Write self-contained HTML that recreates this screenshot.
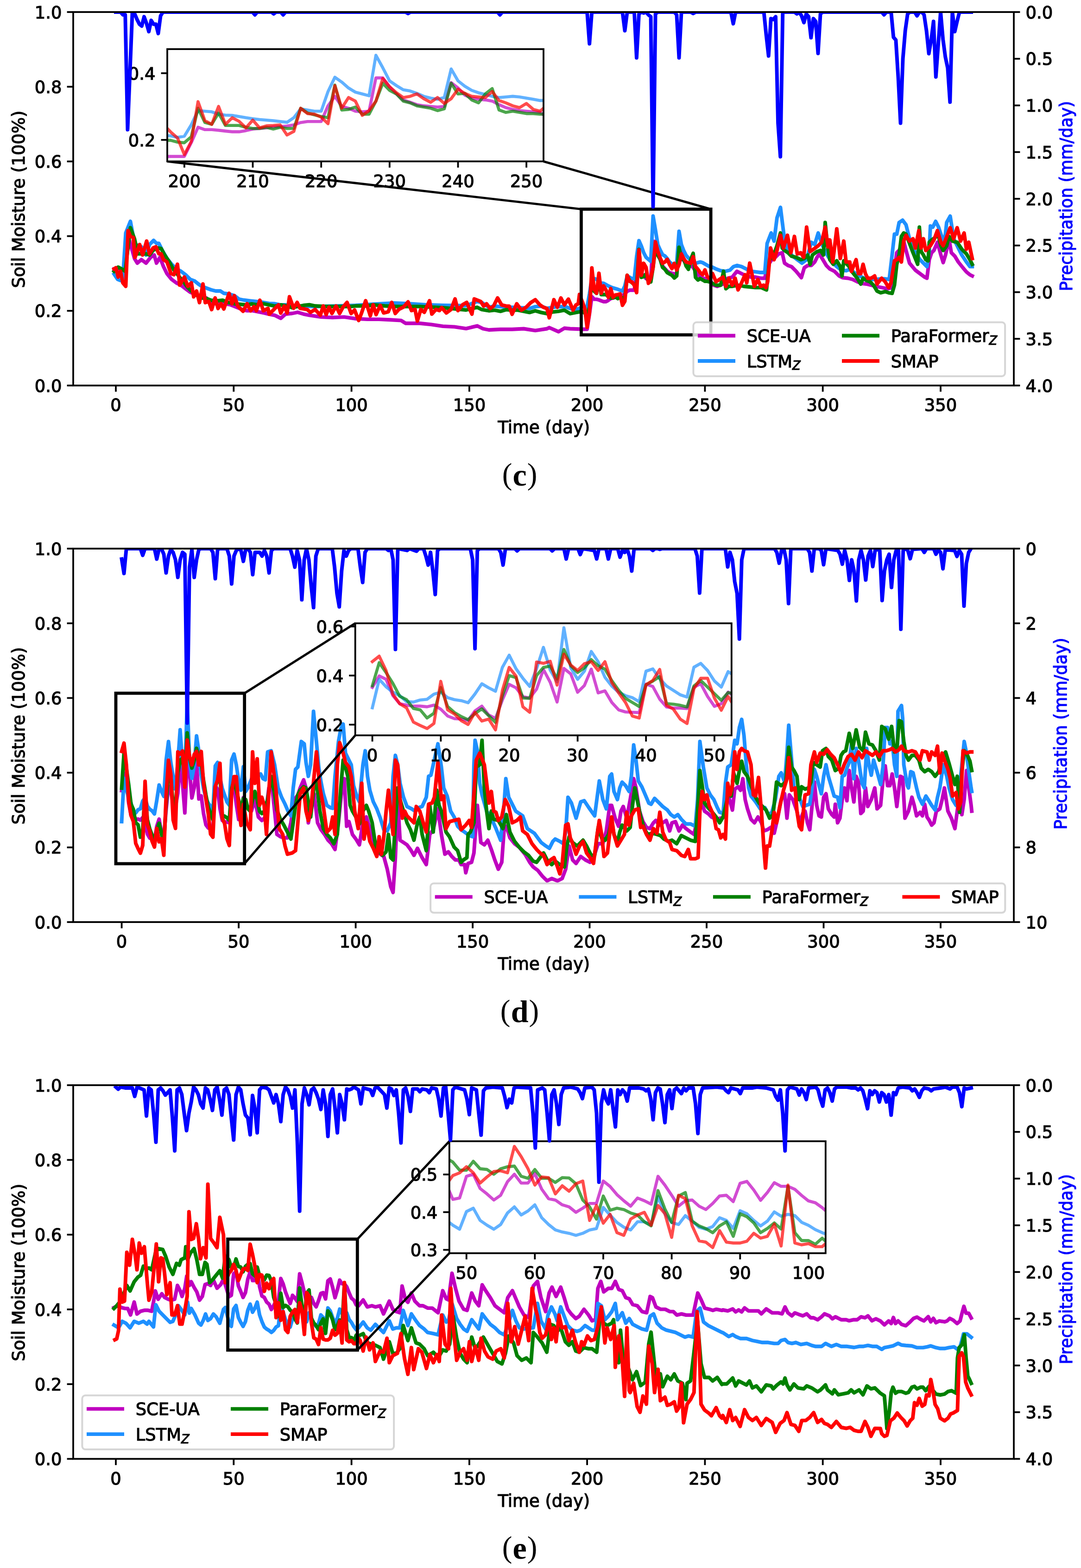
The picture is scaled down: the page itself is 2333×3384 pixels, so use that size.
<!DOCTYPE html>
<html><head><meta charset="utf-8"><title>Soil moisture figure</title>
<style>html,body{margin:0;padding:0;background:#fff;} svg{display:block;} text{stroke-width:1.2px;} text.lab{stroke-width:0;}</style></head>
<body>
<svg xmlns="http://www.w3.org/2000/svg" width="2333" height="3384" viewBox="0 0 2333 3384" font-family="'DejaVu Sans', 'Liberation Sans', sans-serif">
<defs><clipPath id="clip0"><rect x="158" y="26" width="2030" height="806"/></clipPath><clipPath id="iclip0"><rect x="361" y="106" width="812" height="242.3"/></clipPath><clipPath id="clip1"><rect x="158" y="1184" width="2030" height="806"/></clipPath><clipPath id="iclip1"><rect x="766.7" y="1345.2" width="812.0999999999999" height="241.79999999999995"/></clipPath><clipPath id="clip2"><rect x="158" y="2342" width="2030" height="806.5"/></clipPath><clipPath id="iclip2"><rect x="969.8" y="2463" width="812.0" height="241.5999999999999"/></clipPath></defs>
<rect width="2333" height="3384" fill="#fff"/>
<polyline points="246.3,580.4 255.1,580.4 262.6,584.1 267.6,590.4 278.9,517.7 290.2,557.8 296.4,567.8 305.2,560.3 315.2,567.8 325.2,555.3 332.8,550.3 337.8,567.8 345.3,555.3 352.8,575.3 360.3,590.4 370.4,602.9 380.4,610.4 390.4,615.4 400.4,623.0 410.5,630.5 423.0,635.5 435.5,640.5 445.5,643.0 455.6,653.0 465.6,655.5 475.6,654.3 485.6,655.5 498.2,658.0 510.7,663.1 523.2,668.1 533.3,670.6 545.8,670.6 558.3,673.1 570.9,675.6 580.9,678.1 593.4,680.6 605.9,686.9 616.0,678.1 626.0,676.8 630.0,676.5 642.5,674.0 655.1,677.8 667.6,680.3 692.7,684.1 717.7,685.3 742.8,684.1 767.8,687.8 792.9,689.1 818.0,689.1 843.0,690.3 865.6,691.6 875.6,697.8 905.7,697.8 930.8,700.4 955.8,704.1 980.9,705.4 1005.9,709.1 1030.0,703.3 1042.5,709.5 1055.1,712.0 1080.1,710.8 1105.2,710.8 1130.3,709.5 1155.3,713.3 1180.4,709.5 1185.4,707.0 1205.4,715.8 1218.0,708.3 1230.5,709.5 1257.0,710.5 1262.1,710.5 1267.1,710.5 1272.2,677.5 1277.3,640.1 1282.4,645.9 1287.5,645.9 1292.6,647.3 1297.7,649.3 1302.7,651.0 1307.8,651.0 1312.9,648.2 1318.0,644.4 1323.1,643.0 1328.2,641.6 1333.3,639.5 1338.3,638.7 1343.4,637.2 1348.5,634.4 1353.6,628.6 1358.7,626.3 1363.8,626.3 1368.9,626.3 1373.9,588.4 1379.0,565.4 1384.1,589.8 1389.2,594.1 1394.3,601.3 1399.4,602.8 1404.5,601.3 1409.5,520.9 1414.6,520.9 1419.7,542.4 1424.8,559.7 1429.9,574.0 1435.0,579.8 1440.1,585.5 1445.1,588.4 1450.2,589.8 1455.3,591.3 1460.4,589.8 1465.5,532.4 1470.6,545.3 1475.7,562.5 1480.7,569.7 1485.8,572.6 1490.9,574.0 1496.0,576.9 1501.1,585.5 1506.2,592.7 1511.3,597.0 1516.3,599.9 1521.4,601.3 1526.5,602.8 1531.6,604.2 1540.3,615.5 1547.8,618.0 1560.3,613.0 1570.4,600.5 1580.4,598.0 1590.4,585.5 1600.4,590.5 1610.5,595.5 1620.5,598.0 1630.5,598.0 1643.0,600.5 1650.6,600.5 1655.6,575.4 1665.6,560.4 1673.1,555.4 1680.6,547.9 1688.1,545.4 1693.2,567.9 1700.7,572.9 1708.2,575.4 1718.2,585.5 1729.5,599.2 1735.8,577.9 1743.3,572.9 1750.8,572.9 1758.3,565.4 1763.3,555.4 1768.3,547.9 1775.9,560.4 1783.4,572.9 1790.9,580.5 1800.9,585.5 1811.0,595.5 1818.5,599.2 1830.1,600.5 1840.1,603.0 1850.2,608.0 1860.2,611.8 1870.2,613.0 1890.3,618.0 1915.3,623.1 1925.3,620.6 1935.4,545.4 1940.4,540.4 1950.4,520.3 1955.4,540.4 1962.9,567.9 1975.5,583.0 1985.5,590.5 1995.5,598.0 2000.5,600.5 2005.5,560.4 2010.6,545.4 2015.6,540.4 2023.1,522.8 2030.6,550.4 2035.6,566.7 2040.6,550.4 2048.1,515.3 2053.2,545.4 2060.7,552.9 2068.2,565.4 2078.2,577.9 2085.7,586.7 2093.3,593.0 2098.3,595.5" fill="none" stroke="#bf00bf" stroke-width="7.9" stroke-linejoin="round" stroke-linecap="square" clip-path="url(#clip0)"/>
<polyline points="246.3,591.6 253.8,602.9 260.1,605.4 265.1,600.4 271.4,502.7 281.4,477.6 287.6,510.2 292.7,527.7 305.2,532.7 315.2,550.3 322.7,527.7 331.5,518.9 337.8,525.2 342.8,525.2 350.3,540.3 360.3,557.8 370.4,570.3 380.4,580.4 390.4,585.4 400.4,592.9 410.5,602.9 420.5,606.7 428.0,612.9 435.5,617.9 445.5,621.7 455.6,625.5 465.6,628.0 475.6,628.0 483.1,633.0 493.2,634.2 505.7,638.0 515.7,645.5 525.7,647.5 540.8,649.3 550.8,650.5 563.3,651.8 580.9,655.0 593.4,655.5 605.9,658.0 621.0,658.0 630.0,660.3 680.1,661.5 730.3,660.3 767.8,659.0 805.4,656.5 850.6,654.0 880.6,655.2 918.2,657.7 955.8,659.0 1005.9,659.7 1030.0,650.6 1040.0,653.1 1055.1,663.2 1067.6,660.7 1080.1,661.9 1105.2,663.2 1130.3,664.4 1142.8,665.7 1155.3,661.9 1167.8,660.7 1180.4,665.7 1192.9,663.2 1205.4,661.9 1220.5,661.9 1230.5,665.7 1240.5,668.2 1250.6,665.7 1257.0,660.8 1262.1,664.5 1267.1,661.7 1272.2,634.4 1277.3,599.9 1282.4,601.3 1287.5,602.8 1292.6,608.5 1297.7,610.8 1302.7,611.4 1307.8,614.3 1312.9,617.1 1318.0,619.4 1323.1,621.4 1328.2,622.9 1333.3,624.3 1338.3,626.3 1343.4,628.0 1348.5,617.1 1353.6,595.6 1358.7,598.5 1363.8,601.3 1368.9,601.3 1373.9,553.9 1379.0,519.4 1384.1,530.9 1389.2,545.3 1394.3,555.3 1399.4,559.7 1404.5,564.0 1409.5,466.3 1414.6,496.4 1419.7,528.0 1424.8,539.5 1429.9,549.6 1435.0,552.5 1440.1,558.2 1445.1,565.4 1450.2,569.7 1455.3,572.6 1460.4,568.3 1465.5,499.3 1470.6,528.0 1475.7,541.0 1480.7,551.0 1485.8,556.8 1490.9,561.1 1496.0,565.4 1501.1,568.3 1506.2,566.8 1511.3,565.4 1516.3,566.8 1521.4,569.7 1526.5,572.6 1531.6,575.5 1535.3,575.4 1545.3,580.5 1555.3,584.2 1565.3,585.5 1575.4,583.0 1582.9,575.4 1590.4,572.9 1600.4,575.4 1610.5,580.5 1620.5,585.5 1630.5,586.7 1640.5,588.0 1650.6,588.0 1655.6,525.3 1664.3,502.8 1670.6,520.3 1676.9,470.2 1684.4,447.6 1689.4,487.7 1693.2,517.8 1700.7,540.4 1710.7,552.9 1720.7,560.4 1730.8,567.9 1740.8,560.4 1750.8,522.8 1758.3,527.8 1765.8,502.8 1773.4,525.3 1780.9,542.9 1788.4,555.4 1795.9,565.4 1805.9,575.4 1816.0,583.0 1826.0,584.2 1832.6,581.7 1840.1,585.5 1850.2,593.0 1860.2,598.0 1870.2,603.0 1880.2,603.0 1890.3,603.0 1900.3,601.8 1910.3,601.8 1919.1,603.0 1925.3,550.4 1930.4,505.3 1935.4,505.3 1940.4,480.2 1947.9,475.2 1955.4,485.2 1960.4,505.3 1965.4,525.3 1975.5,545.4 1985.5,560.4 1995.5,570.4 2000.5,575.4 2005.5,540.4 2008.0,487.7 2013.1,490.2 2019.3,477.7 2025.6,490.2 2030.6,505.3 2038.1,525.3 2043.1,480.2 2050.7,466.4 2054.4,490.2 2058.2,515.3 2065.7,530.3 2075.7,550.4 2085.7,565.4 2093.3,575.4 2098.3,575.4" fill="none" stroke="#1e90ff" stroke-width="7.9" stroke-linejoin="round" stroke-linecap="square" clip-path="url(#clip0)"/>
<polyline points="246.3,585.4 255.1,576.6 262.6,580.4 270.1,585.4 281.4,491.4 290.2,515.2 297.7,547.8 305.2,547.8 315.2,547.8 322.7,550.3 330.3,540.3 340.3,535.2 347.8,536.5 355.3,550.3 365.3,565.3 375.4,582.9 385.4,595.4 395.4,607.9 405.4,620.5 415.5,630.5 425.5,638.0 435.5,643.0 445.5,644.3 455.6,648.0 468.1,649.3 480.6,648.0 493.2,653.0 505.7,655.5 518.2,656.8 530.8,658.0 543.3,656.0 555.8,658.0 568.3,655.5 580.9,658.0 593.4,660.6 605.9,658.0 621.0,660.6 630.0,664.0 655.1,659.0 667.6,657.7 680.1,660.3 705.2,661.5 730.3,661.5 755.3,661.5 767.8,660.3 792.9,660.3 805.4,657.7 830.5,660.3 855.6,661.5 880.6,661.5 905.7,661.5 930.8,662.8 955.8,664.0 980.9,666.5 1005.9,669.0 1030.0,663.2 1040.0,668.2 1055.1,670.7 1067.6,669.4 1080.1,671.9 1092.7,668.2 1105.2,669.4 1117.7,669.4 1130.3,671.9 1142.8,674.4 1155.3,670.7 1167.8,674.4 1180.4,676.9 1192.9,673.2 1205.4,671.9 1218.0,669.4 1230.5,676.9 1243.0,674.4 1250.6,673.2 1257.0,671.7 1262.1,676.0 1267.1,677.5 1272.2,663.1 1277.3,594.1 1282.4,628.6 1287.5,632.9 1292.6,605.6 1297.7,635.8 1302.7,635.8 1307.8,635.8 1312.9,640.1 1318.0,643.0 1323.1,643.0 1328.2,640.1 1333.3,644.4 1338.3,640.1 1343.4,643.0 1348.5,643.0 1353.6,594.1 1358.7,605.6 1363.8,609.9 1368.9,614.3 1373.9,617.1 1379.0,538.1 1384.1,598.5 1389.2,597.0 1394.3,591.3 1399.4,608.5 1404.5,608.5 1409.5,576.9 1414.6,533.8 1419.7,551.0 1424.8,559.7 1429.9,576.9 1435.0,581.2 1440.1,588.4 1445.1,591.3 1450.2,594.1 1455.3,599.9 1460.4,595.6 1465.5,533.8 1470.6,559.7 1475.7,558.2 1480.7,574.0 1485.8,581.2 1490.9,559.7 1496.0,546.7 1501.1,598.5 1506.2,604.2 1511.3,601.3 1516.3,604.2 1521.4,607.1 1526.5,607.1 1531.6,608.5 1545.3,615.5 1555.3,615.5 1561.6,585.5 1566.6,623.1 1572.9,618.0 1580.4,618.0 1592.9,615.5 1605.4,618.0 1618.0,619.3 1630.5,620.6 1643.0,620.6 1654.3,625.6 1660.6,560.4 1668.1,555.4 1676.9,530.3 1684.4,502.8 1688.1,535.3 1693.2,540.4 1700.7,545.4 1708.2,552.9 1718.2,555.4 1728.2,560.4 1735.8,557.9 1743.3,550.4 1748.3,570.4 1753.3,550.4 1763.3,542.9 1770.9,540.4 1777.1,550.4 1780.9,480.2 1785.9,530.3 1790.9,560.4 1798.4,570.4 1805.9,562.9 1813.5,575.4 1817.2,595.5 1821.0,562.9 1832.6,575.4 1840.1,588.0 1850.2,600.5 1857.7,613.0 1862.7,600.5 1870.2,605.5 1877.7,608.0 1885.2,615.5 1892.8,628.1 1900.3,631.8 1910.3,629.3 1917.8,631.8 1925.3,633.1 1930.4,615.5 1935.4,570.4 1940.4,550.4 1945.4,510.3 1950.4,502.8 1955.4,505.3 1962.9,525.3 1970.5,545.4 1980.5,570.4 1984.2,490.2 1988.0,542.9 1993.0,550.4 1998.0,560.4 2003.0,562.9 2005.5,522.8 2010.6,517.8 2018.1,512.8 2024.3,505.3 2030.6,530.3 2035.6,540.4 2043.1,530.3 2048.1,510.3 2055.7,520.3 2065.7,522.8 2075.7,537.8 2085.7,547.9 2093.3,560.4 2098.3,570.4" fill="none" stroke="#008000" stroke-width="7.9" stroke-linejoin="round" stroke-linecap="square" clip-path="url(#clip0)"/>
<polyline points="246.3,580.4 250.1,577.8 255.1,597.9 260.1,585.4 265.1,610.4 271.4,617.9 276.4,497.6 281.4,510.2 287.6,512.7 291.4,555.3 301.4,527.7 307.7,550.3 316.5,520.2 322.7,547.8 330.3,535.2 336.5,532.7 342.8,547.8 347.8,547.8 352.8,560.3 360.3,565.3 369.1,590.4 375.4,592.9 382.9,570.3 387.9,615.4 397.9,597.9 405.4,617.9 413.0,610.4 418.0,640.5 424.2,628.0 430.5,653.0 438.0,612.9 443.0,653.0 450.6,650.5 456.8,668.1 464.3,643.0 470.6,665.6 476.9,655.5 483.1,666.8 494.4,633.0 500.7,655.5 505.7,638.0 513.2,660.6 524.5,671.8 533.3,655.5 540.8,670.6 548.3,661.8 553.3,670.6 560.8,648.0 568.3,670.6 578.4,665.6 580.9,678.1 590.9,668.1 600.9,658.0 605.9,675.6 613.5,660.6 619.7,675.6 624.7,640.5 633.8,665.3 641.3,652.7 647.5,665.3 662.6,667.8 670.1,674.0 680.1,667.8 691.4,680.3 697.7,660.3 703.9,679.0 710.2,662.8 716.5,676.5 725.2,660.3 732.8,676.5 740.3,662.8 749.0,652.7 757.8,676.5 765.3,669.0 774.1,691.6 780.4,675.3 789.1,649.0 799.2,681.6 805.4,657.7 811.7,679.0 820.5,659.0 828.0,675.3 838.0,672.8 845.5,652.7 853.1,676.5 860.6,667.8 870.6,662.8 880.6,651.5 888.1,670.3 895.7,667.8 900.7,692.8 908.2,667.8 915.7,674.0 927.0,649.0 932.0,677.8 940.8,667.8 948.3,670.3 953.3,664.0 963.3,675.3 973.4,667.8 982.1,645.2 988.4,670.3 998.4,657.7 1007.2,652.7 1018.5,677.8 1023.5,645.2 1037.5,650.6 1043.8,660.7 1050.1,655.6 1057.6,665.7 1065.1,660.7 1073.9,643.1 1082.6,658.1 1092.7,660.7 1098.9,660.7 1105.2,678.2 1115.2,655.6 1125.2,669.4 1135.3,663.2 1145.3,653.1 1155.3,646.9 1165.3,658.1 1172.9,663.2 1180.4,665.7 1185.4,685.7 1195.4,646.9 1202.9,663.2 1210.5,643.1 1218.0,658.1 1226.7,645.6 1236.8,669.4 1243.0,658.1 1248.0,655.6 1250.6,635.6 1257.0,651.6 1262.1,666.0 1267.1,706.2 1272.2,674.6 1277.3,578.3 1282.4,624.3 1287.5,632.9 1292.6,589.8 1297.7,632.9 1302.7,617.1 1307.8,625.8 1312.9,641.6 1318.0,622.9 1323.1,641.6 1328.2,636.7 1333.3,635.8 1338.3,634.4 1343.4,658.8 1348.5,650.2 1353.6,594.1 1358.7,607.1 1363.8,608.5 1368.9,615.7 1373.9,631.5 1379.0,539.5 1384.1,594.1 1389.2,568.3 1394.3,576.9 1399.4,611.4 1404.5,599.9 1409.5,576.9 1414.6,522.3 1419.7,542.4 1424.8,556.8 1429.9,568.3 1435.0,565.4 1440.1,559.7 1445.1,571.2 1450.2,579.8 1455.3,568.3 1460.4,582.6 1465.5,571.2 1470.6,548.2 1475.7,558.2 1480.7,565.4 1485.8,566.8 1490.9,568.3 1496.0,553.9 1501.1,575.5 1506.2,581.2 1511.3,588.4 1516.3,592.7 1521.4,582.6 1526.5,597.0 1531.6,601.3 1537.8,590.5 1545.3,608.0 1552.8,603.0 1560.3,598.0 1566.6,618.0 1572.9,600.5 1580.4,615.5 1586.6,600.5 1592.9,625.6 1600.4,610.5 1607.9,593.0 1611.7,610.5 1618.0,567.9 1624.2,598.0 1628.0,618.0 1635.5,603.0 1641.8,618.0 1648.0,615.5 1653.1,620.6 1656.8,608.0 1663.1,535.3 1670.6,560.4 1676.9,540.4 1684.4,507.8 1690.7,535.3 1699.4,507.8 1706.9,545.4 1714.5,510.3 1720.7,547.9 1728.2,545.4 1734.5,555.4 1740.8,490.2 1748.3,542.9 1755.8,537.8 1765.8,530.3 1773.4,522.8 1780.9,490.2 1787.1,532.8 1790.9,517.8 1797.2,565.4 1805.9,494.0 1813.5,557.9 1821.0,520.3 1826.0,565.4 1833.9,565.4 1837.6,585.5 1842.6,572.9 1847.6,560.4 1852.7,590.5 1857.7,590.5 1862.7,570.4 1867.7,590.5 1872.7,600.5 1880.2,600.5 1887.7,595.5 1892.8,613.0 1902.8,600.5 1910.3,608.0 1917.8,620.6 1922.8,610.5 1930.4,562.9 1935.4,560.4 1940.4,555.4 1945.4,565.4 1950.4,520.3 1955.4,507.8 1962.9,520.3 1970.5,515.3 1975.5,535.3 1983.0,497.7 1988.0,535.3 1993.0,515.3 1998.0,540.4 2008.0,530.3 2015.6,517.8 2023.1,497.7 2030.6,522.8 2035.6,530.3 2040.6,517.8 2050.7,491.5 2058.2,515.3 2065.7,491.5 2073.2,520.3 2080.7,502.8 2085.7,537.8 2090.8,522.8 2098.3,557.9" fill="none" stroke="#ff0000" stroke-width="7.9" stroke-linejoin="round" stroke-linecap="square" clip-path="url(#clip0)"/>
<rect x="1254.4" y="451.4" width="279.7" height="271.3" fill="none" stroke="#000" stroke-width="6.8"/>
<line x1="361.0" y1="348.3" x2="1254.4" y2="451.4" stroke="#000" stroke-width="4.9"/>
<line x1="1173.0" y1="348.3" x2="1534.1" y2="451.4" stroke="#000" stroke-width="4.9"/>
<rect x="361" y="106" width="812.0" height="242.3" fill="#fff"/>
<polyline points="361.0,337.6 368.4,337.6 383.1,337.6 397.9,337.6 412.7,308.1 427.4,274.7 442.2,279.8 457.0,279.8 471.7,281.1 486.5,282.9 501.3,284.4 516.0,284.4 530.8,281.9 545.5,278.5 560.3,277.2 575.1,276.0 589.8,274.2 604.6,273.4 619.4,272.1 634.1,269.5 648.9,264.4 663.7,262.3 678.4,262.3 693.2,262.3 707.9,228.4 722.7,207.9 737.5,229.7 752.2,233.6 767.0,240.0 781.8,241.3 796.5,240.0 811.3,168.1 826.1,168.1 840.8,187.3 855.6,202.7 870.3,215.6 885.1,220.7 899.9,225.9 914.6,228.4 929.4,229.7 944.2,231.0 958.9,229.7 973.7,178.3 988.5,189.9 1003.2,205.3 1018.0,211.7 1032.7,214.3 1047.5,215.6 1062.3,218.2 1077.0,225.9 1091.8,232.3 1106.6,236.1 1121.3,238.7 1136.1,240.0 1150.9,241.3 1165.6,242.6 1173.0,247.7" fill="none" stroke="#bf00bf" stroke-width="6.6" stroke-linejoin="round" stroke-linecap="square" stroke-opacity="0.7" clip-path="url(#iclip0)"/>
<polyline points="361.0,292.7 368.4,293.2 383.1,296.5 397.9,293.9 412.7,269.5 427.4,238.7 442.2,240.0 457.0,241.3 471.7,246.4 486.5,248.5 501.3,249.0 516.0,251.6 530.8,254.1 545.5,256.2 560.3,258.0 575.1,259.3 589.8,260.5 604.6,262.3 619.4,263.9 634.1,254.1 648.9,234.9 663.7,237.4 678.4,240.0 693.2,240.0 707.9,197.6 722.7,166.8 737.5,177.1 752.2,189.9 767.0,198.9 781.8,202.7 796.5,206.6 811.3,119.3 826.1,146.2 840.8,174.5 855.6,184.8 870.3,193.8 885.1,196.3 899.9,201.5 914.6,207.9 929.4,211.7 944.2,214.3 958.9,210.5 973.7,148.8 988.5,174.5 1003.2,186.1 1018.0,195.0 1032.7,200.2 1047.5,204.0 1062.3,207.9 1077.0,210.5 1091.8,209.2 1106.6,207.9 1121.3,209.2 1136.1,211.7 1150.9,214.3 1165.6,216.9 1173.0,216.9" fill="none" stroke="#1e90ff" stroke-width="6.6" stroke-linejoin="round" stroke-linecap="square" stroke-opacity="0.7" clip-path="url(#iclip0)"/>
<polyline points="361.0,302.9 368.4,302.9 383.1,306.8 397.9,308.1 412.7,295.2 427.4,233.6 442.2,264.4 457.0,268.3 471.7,243.8 486.5,270.8 501.3,270.8 516.0,270.8 530.8,274.7 545.5,277.2 560.3,277.2 575.1,274.7 589.8,278.5 604.6,274.7 619.4,277.2 634.1,277.2 648.9,233.6 663.7,243.8 678.4,247.7 693.2,251.6 707.9,254.1 722.7,183.5 737.5,237.4 752.2,236.1 767.0,231.0 781.8,246.4 796.5,246.4 811.3,218.2 826.1,179.6 840.8,195.0 855.6,202.7 870.3,218.2 885.1,222.0 899.9,228.4 914.6,231.0 929.4,233.6 944.2,238.7 958.9,234.9 973.7,179.6 988.5,202.7 1003.2,201.5 1018.0,215.6 1032.7,222.0 1047.5,202.7 1062.3,191.2 1077.0,237.4 1091.8,242.6 1106.6,240.0 1121.3,242.6 1136.1,245.1 1150.9,245.1 1165.6,246.4 1173.0,246.4" fill="none" stroke="#008000" stroke-width="6.6" stroke-linejoin="round" stroke-linecap="square" stroke-opacity="0.7" clip-path="url(#iclip0)"/>
<polyline points="361.0,277.2 368.4,284.9 383.1,297.8 397.9,333.8 412.7,305.5 427.4,219.4 442.2,260.5 457.0,268.3 471.7,229.7 486.5,268.3 501.3,254.1 516.0,261.8 530.8,276.0 545.5,259.3 560.3,276.0 575.1,271.6 589.8,270.8 604.6,269.5 619.4,291.4 634.1,283.7 648.9,233.6 663.7,245.1 678.4,246.4 693.2,252.8 707.9,267.0 722.7,184.8 737.5,233.6 752.2,210.5 767.0,218.2 781.8,249.0 796.5,238.7 811.3,218.2 826.1,169.4 840.8,187.3 855.6,200.2 870.3,210.5 885.1,207.9 899.9,202.7 914.6,213.0 929.4,220.7 944.2,210.5 958.9,223.3 973.7,213.0 988.5,192.5 1003.2,201.5 1018.0,207.9 1032.7,209.2 1047.5,210.5 1062.3,197.6 1077.0,216.9 1091.8,222.0 1106.6,228.4 1121.3,232.3 1136.1,223.3 1150.9,236.1 1165.6,240.0 1173.0,233.6" fill="none" stroke="#ff0000" stroke-width="6.6" stroke-linejoin="round" stroke-linecap="square" stroke-opacity="0.7" clip-path="url(#iclip0)"/>
<rect x="361" y="106" width="812.0" height="242.3" fill="none" stroke="#000" stroke-width="3.8"/>
<line x1="397.9" y1="348.3" x2="397.9" y2="361.7" stroke="#000" stroke-width="3.8"/>
<text x="397.9" y="403.8" text-anchor="middle" font-size="36.9" fill="#000" stroke="#000" >200</text>
<line x1="545.5" y1="348.3" x2="545.5" y2="361.7" stroke="#000" stroke-width="3.8"/>
<text x="545.5" y="403.8" text-anchor="middle" font-size="36.9" fill="#000" stroke="#000" >210</text>
<line x1="693.2" y1="348.3" x2="693.2" y2="361.7" stroke="#000" stroke-width="3.8"/>
<text x="693.2" y="403.8" text-anchor="middle" font-size="36.9" fill="#000" stroke="#000" >220</text>
<line x1="840.8" y1="348.3" x2="840.8" y2="361.7" stroke="#000" stroke-width="3.8"/>
<text x="840.8" y="403.8" text-anchor="middle" font-size="36.9" fill="#000" stroke="#000" >230</text>
<line x1="988.5" y1="348.3" x2="988.5" y2="361.7" stroke="#000" stroke-width="3.8"/>
<text x="988.5" y="403.8" text-anchor="middle" font-size="36.9" fill="#000" stroke="#000" >240</text>
<line x1="1136.1" y1="348.3" x2="1136.1" y2="361.7" stroke="#000" stroke-width="3.8"/>
<text x="1136.1" y="403.8" text-anchor="middle" font-size="36.9" fill="#000" stroke="#000" >250</text>
<line x1="347.6" y1="301.9" x2="361" y2="301.9" stroke="#000" stroke-width="3.8"/>
<text x="335.5" y="315.5" text-anchor="end" font-size="36.9" fill="#000" stroke="#000" >0.2</text>
<line x1="347.6" y1="158.0" x2="361" y2="158.0" stroke="#000" stroke-width="3.8"/>
<text x="335.5" y="171.6" text-anchor="end" font-size="36.9" fill="#000" stroke="#000" >0.4</text>
<polyline points="250.0,26.0 260.2,26.0 265.3,32.0 270.3,32.0 275.4,279.9 280.5,155.0 285.6,26.0 290.7,30.0 295.8,42.1 300.9,52.2 305.9,56.2 311.0,36.1 316.1,50.2 321.2,68.3 326.3,44.1 331.4,52.2 336.5,52.2 341.5,72.3 346.6,34.1 351.7,26.0 545.0,26.0 550.1,32.0 555.1,26.0 585.7,26.0 590.7,30.0 595.8,26.0 606.0,26.0 611.1,32.0 616.2,26.0 875.5,26.0 880.6,29.0 885.7,26.0 1073.9,26.0 1079.0,32.0 1084.1,26.0 1267.1,26.0 1272.2,94.5 1277.3,26.0 1343.4,26.0 1348.5,66.3 1353.6,26.0 1368.9,26.0 1373.9,124.7 1379.0,30.0 1384.1,26.0 1389.2,28.0 1394.3,26.0 1399.4,32.0 1404.5,36.1 1409.5,446.1 1414.6,30.0 1419.7,26.0 1455.3,26.0 1460.4,32.0 1465.5,124.7 1470.6,26.0 1490.9,26.0 1496.0,29.0 1501.1,26.0 1577.4,26.0 1582.5,51.2 1587.5,26.0 1648.6,26.0 1653.7,76.4 1658.7,120.7 1663.8,40.1 1668.9,42.1 1674.0,36.1 1679.1,265.8 1684.2,338.3 1689.3,26.0 1714.7,26.0 1719.8,30.0 1724.9,26.0 1729.9,34.1 1735.0,48.8 1740.1,30.0 1745.2,36.1 1750.3,81.4 1755.4,40.1 1760.5,46.2 1765.5,115.3 1770.6,30.0 1775.7,26.0 1902.9,26.0 1907.9,32.0 1913.0,26.0 1923.2,26.0 1928.3,80.4 1933.4,86.4 1938.5,167.0 1943.5,265.8 1948.6,126.8 1953.7,66.3 1958.8,30.0 1963.9,26.0 1974.1,26.0 1979.1,34.1 1984.2,26.0 1989.3,26.0 1994.4,32.0 1999.5,66.3 2004.6,115.7 2009.7,86.4 2014.7,46.2 2019.8,166.0 2024.9,96.5 2030.0,26.0 2035.1,84.4 2040.2,122.7 2045.3,146.9 2050.3,220.4 2055.4,26.0 2060.5,68.3 2065.6,46.2 2070.7,26.0 2096.1,26.0" fill="none" stroke="#0000ff" stroke-width="7.9" stroke-linejoin="round" stroke-linecap="square" clip-path="url(#clip0)"/>
<rect x="1496.4" y="695.5" width="672.7" height="116.5" rx="7" ry="7" fill="#fff" fill-opacity="0.8" stroke="#cccccc" stroke-opacity="0.8" stroke-width="4"/>
<line x1="1506.0" y1="724.5" x2="1587.0" y2="724.5" stroke="#bf00bf" stroke-width="7.8"/>
<text x="1611.7" y="738.3" text-anchor="start" font-size="36.9" fill="#000" stroke="#000" >SCE-UA</text>
<line x1="1506.0" y1="779.0" x2="1587.0" y2="779.0" stroke="#1e90ff" stroke-width="7.8"/>
<text x="1611.7" y="792.8" text-anchor="start" font-size="36.9" fill="#000" stroke="#000" >LSTM<tspan font-style="italic" font-size="25.8" dy="5.6">Z</tspan></text>
<line x1="1817.0" y1="724.5" x2="1898.0" y2="724.5" stroke="#008000" stroke-width="7.8"/>
<text x="1922.7" y="738.3" text-anchor="start" font-size="36.9" fill="#000" stroke="#000" >ParaFormer<tspan font-style="italic" font-size="25.8" dy="5.6">Z</tspan></text>
<line x1="1817.0" y1="779.0" x2="1898.0" y2="779.0" stroke="#ff0000" stroke-width="7.8"/>
<text x="1922.7" y="792.8" text-anchor="start" font-size="36.9" fill="#000" stroke="#000" >SMAP</text>
<rect x="158" y="26" width="2030" height="806" fill="none" stroke="#000" stroke-width="3.8"/>
<line x1="250.0" y1="832" x2="250.0" y2="845.4" stroke="#000" stroke-width="3.8"/>
<text x="250" y="887" text-anchor="middle" font-size="36.9" fill="#000" stroke="#000" >0</text>
<line x1="504.3" y1="832" x2="504.3" y2="845.4" stroke="#000" stroke-width="3.8"/>
<text x="504.3" y="887" text-anchor="middle" font-size="36.9" fill="#000" stroke="#000" >50</text>
<line x1="758.6" y1="832" x2="758.6" y2="845.4" stroke="#000" stroke-width="3.8"/>
<text x="758.6" y="887" text-anchor="middle" font-size="36.9" fill="#000" stroke="#000" >100</text>
<line x1="1012.9" y1="832" x2="1012.9" y2="845.4" stroke="#000" stroke-width="3.8"/>
<text x="1012.9" y="887" text-anchor="middle" font-size="36.9" fill="#000" stroke="#000" >150</text>
<line x1="1267.1" y1="832" x2="1267.1" y2="845.4" stroke="#000" stroke-width="3.8"/>
<text x="1267.1" y="887" text-anchor="middle" font-size="36.9" fill="#000" stroke="#000" >200</text>
<line x1="1521.4" y1="832" x2="1521.4" y2="845.4" stroke="#000" stroke-width="3.8"/>
<text x="1521.4" y="887" text-anchor="middle" font-size="36.9" fill="#000" stroke="#000" >250</text>
<line x1="1775.7" y1="832" x2="1775.7" y2="845.4" stroke="#000" stroke-width="3.8"/>
<text x="1775.7" y="887" text-anchor="middle" font-size="36.9" fill="#000" stroke="#000" >300</text>
<line x1="2030.0" y1="832" x2="2030.0" y2="845.4" stroke="#000" stroke-width="3.8"/>
<text x="2030" y="887" text-anchor="middle" font-size="36.9" fill="#000" stroke="#000" >350</text>
<line x1="144.6" y1="832.0" x2="158" y2="832.0" stroke="#000" stroke-width="3.8"/>
<text x="133.5" y="845.6" text-anchor="end" font-size="36.9" fill="#000" stroke="#000" >0.0</text>
<line x1="144.6" y1="670.8" x2="158" y2="670.8" stroke="#000" stroke-width="3.8"/>
<text x="133.5" y="684.4" text-anchor="end" font-size="36.9" fill="#000" stroke="#000" >0.2</text>
<line x1="144.6" y1="509.6" x2="158" y2="509.6" stroke="#000" stroke-width="3.8"/>
<text x="133.5" y="523.2" text-anchor="end" font-size="36.9" fill="#000" stroke="#000" >0.4</text>
<line x1="144.6" y1="348.4" x2="158" y2="348.4" stroke="#000" stroke-width="3.8"/>
<text x="133.5" y="362" text-anchor="end" font-size="36.9" fill="#000" stroke="#000" >0.6</text>
<line x1="144.6" y1="187.2" x2="158" y2="187.2" stroke="#000" stroke-width="3.8"/>
<text x="133.5" y="200.8" text-anchor="end" font-size="36.9" fill="#000" stroke="#000" >0.8</text>
<line x1="144.6" y1="26.0" x2="158" y2="26.0" stroke="#000" stroke-width="3.8"/>
<text x="133.5" y="39.6" text-anchor="end" font-size="36.9" fill="#000" stroke="#000" >1.0</text>
<line x1="2188" y1="26.0" x2="2201.4" y2="26.0" stroke="#000" stroke-width="3.8"/>
<text x="2213.5" y="39.6" text-anchor="start" font-size="36.9" fill="#000" stroke="#000" >0.0</text>
<line x1="2188" y1="126.8" x2="2201.4" y2="126.8" stroke="#000" stroke-width="3.8"/>
<text x="2213.5" y="140.3" text-anchor="start" font-size="36.9" fill="#000" stroke="#000" >0.5</text>
<line x1="2188" y1="227.5" x2="2201.4" y2="227.5" stroke="#000" stroke-width="3.8"/>
<text x="2213.5" y="241.1" text-anchor="start" font-size="36.9" fill="#000" stroke="#000" >1.0</text>
<line x1="2188" y1="328.2" x2="2201.4" y2="328.2" stroke="#000" stroke-width="3.8"/>
<text x="2213.5" y="341.9" text-anchor="start" font-size="36.9" fill="#000" stroke="#000" >1.5</text>
<line x1="2188" y1="429.0" x2="2201.4" y2="429.0" stroke="#000" stroke-width="3.8"/>
<text x="2213.5" y="442.6" text-anchor="start" font-size="36.9" fill="#000" stroke="#000" >2.0</text>
<line x1="2188" y1="529.8" x2="2201.4" y2="529.8" stroke="#000" stroke-width="3.8"/>
<text x="2213.5" y="543.4" text-anchor="start" font-size="36.9" fill="#000" stroke="#000" >2.5</text>
<line x1="2188" y1="630.5" x2="2201.4" y2="630.5" stroke="#000" stroke-width="3.8"/>
<text x="2213.5" y="644.1" text-anchor="start" font-size="36.9" fill="#000" stroke="#000" >3.0</text>
<line x1="2188" y1="731.2" x2="2201.4" y2="731.2" stroke="#000" stroke-width="3.8"/>
<text x="2213.5" y="744.9" text-anchor="start" font-size="36.9" fill="#000" stroke="#000" >3.5</text>
<line x1="2188" y1="832.0" x2="2201.4" y2="832.0" stroke="#000" stroke-width="3.8"/>
<text x="2213.5" y="845.6" text-anchor="start" font-size="36.9" fill="#000" stroke="#000" >4.0</text>
<text x="1173.8" y="935.2" text-anchor="middle" font-size="36.9" fill="#000" stroke="#000" >Time (day)</text>
<text x="0" y="0" text-anchor="middle" font-size="36.9" stroke="#000" transform="translate(53.3,430.0) rotate(-90)">Soil Moisture (100%)</text>
<text x="0" y="0" text-anchor="middle" font-size="36.9" fill="#0000ff" stroke="#0000ff" textLength="410.5" lengthAdjust="spacingAndGlyphs" transform="translate(2314,423.2) rotate(-90)">Precipitation (mm/day)</text>
<text class="lab" x="1121.5" y="1044.5" text-anchor="middle" font-family="'Liberation Serif', serif" font-size="65">(<tspan font-weight="bold" font-size="68" dx="1.2" dy="3.2">c</tspan><tspan dx="1" dy="-3.2">)</tspan></text>
<polyline points="262.6,1706.3 267.6,1668.4 272.7,1679.6 277.7,1733.1 282.8,1759.9 287.8,1764.3 292.9,1767.7 297.9,1767.7 303.0,1769.9 308.0,1764.3 313.1,1777.7 318.1,1800.0 323.2,1808.9 328.2,1810.0 333.3,1814.6 338.3,1783.4 343.4,1767.8 348.4,1796.7 353.5,1807.9 358.5,1747.7 363.6,1696.4 368.6,1707.5 373.7,1736.5 378.7,1741.0 383.8,1712.0 388.8,1647.3 393.9,1689.7 398.9,1754.4 404.0,1644.1 409.0,1661.9 414.1,1722.1 419.1,1699.8 424.2,1646.3 429.2,1724.4 434.3,1717.7 439.3,1755.6 444.4,1780.1 449.4,1786.8 454.5,1787.9 459.5,1789.0 464.6,1695.4 469.6,1703.4 474.7,1745.1 479.7,1770.4 484.8,1774.0 489.8,1774.0 494.9,1775.9 499.9,1705.2 505.0,1694.4 510.0,1736.0 515.1,1768.6 520.1,1759.6 525.2,1721.5 530.3,1735.6 535.0,1740.6 542.6,1750.6 550.1,1725.6 557.6,1763.2 565.1,1770.7 572.6,1763.2 580.2,1700.5 585.2,1680.5 592.7,1750.6 597.7,1800.8 605.2,1805.8 612.7,1808.3 620.3,1808.3 627.8,1775.7 635.3,1725.6 642.8,1715.5 647.8,1700.5 655.3,1683.0 660.4,1700.5 665.4,1775.7 670.4,1750.6 677.9,1713.0 685.4,1775.7 692.9,1790.7 700.5,1800.8 708.0,1813.3 715.5,1820.8 723.0,1833.3 730.5,1775.7 738.0,1700.5 743.1,1680.5 748.1,1783.2 753.1,1773.2 760.6,1800.8 768.1,1810.8 775.6,1823.3 783.2,1775.7 790.7,1763.2 798.2,1788.2 805.7,1813.3 813.2,1838.3 820.8,1843.4 828.3,1848.4 835.8,1875.9 843.3,1913.5 848.3,1926.1 853.3,1850.9 858.3,1725.6 863.4,1813.3 870.9,1818.3 878.4,1823.3 885.9,1833.3 893.4,1845.9 901.0,1830.8 911.0,1850.9 920.0,1865.9 927.5,1800.8 935.0,1790.7 945.1,1745.6 952.6,1800.8 960.1,1843.4 967.6,1838.3 975.1,1848.4 982.7,1855.9 990.2,1855.9 995.2,1865.9 1002.7,1865.9 1005.2,1883.5 1010.2,1863.4 1017.7,1860.9 1022.8,1840.9 1030.3,1738.1 1037.8,1818.3 1045.3,1823.3 1052.8,1813.3 1060.4,1833.3 1067.9,1855.9 1075.4,1875.9 1082.9,1860.9 1087.9,1790.7 1092.9,1783.2 1100.5,1808.3 1110.5,1820.8 1120.5,1828.3 1133.0,1843.4 1143.1,1860.9 1150.6,1870.9 1160.6,1878.4 1170.6,1891.0 1180.7,1901.0 1190.7,1896.0 1203.2,1901.0 1213.2,1896.0 1220.8,1875.9 1228.3,1825.8 1235.8,1855.9 1243.3,1863.4 1253.3,1848.4 1263.4,1855.9 1273.4,1860.9 1283.4,1843.4 1290.9,1820.8 1301.0,1820.8 1308.5,1793.2 1316.0,1738.1 1320.0,1738.1 1327.5,1765.7 1335.0,1783.2 1340.1,1750.6 1345.1,1740.6 1352.6,1765.7 1360.1,1725.6 1367.6,1680.5 1372.6,1700.5 1380.2,1750.6 1387.7,1773.2 1395.2,1785.7 1402.7,1788.2 1410.2,1775.7 1415.2,1770.7 1422.8,1780.7 1430.3,1775.7 1437.8,1770.7 1445.3,1793.2 1450.3,1775.7 1457.8,1773.2 1465.4,1793.2 1472.9,1780.7 1480.4,1788.2 1490.4,1795.7 1497.9,1800.8 1505.5,1763.2 1513.0,1725.6 1520.5,1750.6 1528.0,1755.6 1535.5,1763.2 1545.6,1768.2 1555.6,1765.7 1563.1,1763.2 1568.1,1725.6 1573.1,1720.6 1580.7,1748.1 1585.7,1703.0 1593.2,1698.0 1598.2,1705.5 1603.2,1680.5 1608.2,1725.6 1613.2,1745.6 1620.8,1768.2 1628.3,1775.7 1635.8,1763.2 1643.3,1775.7 1648.3,1793.2 1655.8,1790.7 1663.4,1785.7 1670.9,1798.2 1678.4,1765.7 1685.9,1725.6 1693.4,1713.0 1698.4,1765.7 1703.5,1715.5 1711.0,1725.6 1720.0,1750.6 1725.0,1775.7 1732.5,1755.6 1737.5,1750.6 1742.6,1775.7 1747.6,1790.7 1752.6,1738.1 1757.6,1688.0 1762.6,1738.1 1767.6,1760.7 1772.6,1763.2 1777.6,1720.6 1782.7,1713.0 1787.7,1745.6 1795.2,1758.1 1800.2,1763.2 1802.7,1735.6 1807.7,1775.7 1812.7,1765.7 1817.7,1725.6 1822.8,1700.5 1827.8,1728.1 1832.8,1662.9 1837.8,1700.5 1842.8,1730.6 1847.8,1675.4 1852.8,1688.0 1857.8,1755.6 1862.9,1750.6 1867.9,1700.5 1872.9,1740.6 1880.4,1725.6 1887.9,1700.5 1892.9,1745.6 1900.5,1738.1 1905.5,1685.5 1910.5,1652.9 1915.5,1695.5 1920.5,1695.5 1925.5,1670.4 1930.5,1700.5 1935.5,1740.6 1943.1,1675.4 1948.1,1677.9 1953.1,1765.7 1960.6,1750.6 1968.1,1720.6 1973.1,1738.1 1978.1,1760.7 1985.7,1753.1 1990.7,1760.7 1995.7,1735.6 2000.7,1763.2 2005.7,1770.7 2010.7,1780.7 2015.7,1775.7 2020.8,1750.6 2028.3,1745.6 2033.3,1725.6 2038.3,1700.5 2045.8,1750.6 2053.3,1765.7 2060.9,1788.2 2065.9,1750.6 2070.9,1713.0 2075.9,1758.1 2080.9,1725.6 2085.9,1662.9 2090.9,1700.5 2095.9,1738.1 2097.2,1750.6" fill="none" stroke="#bf00bf" stroke-width="7.9" stroke-linejoin="round" stroke-linecap="square" clip-path="url(#clip1)"/>
<polyline points="262.6,1773.2 267.6,1679.6 272.7,1704.1 277.7,1722.0 282.8,1733.1 287.8,1753.2 292.9,1754.3 297.9,1747.6 303.0,1745.4 308.0,1728.6 313.1,1722.0 318.1,1739.8 323.2,1746.5 328.2,1749.8 333.3,1756.6 338.3,1727.6 343.4,1694.2 348.4,1707.5 353.5,1718.7 358.5,1640.7 363.6,1600.5 368.6,1645.1 373.7,1676.3 378.7,1703.1 383.8,1645.1 388.8,1574.9 393.9,1649.6 398.9,1687.5 404.0,1510.3 409.0,1641.9 414.1,1679.8 419.1,1653.0 424.2,1588.3 429.2,1621.8 434.3,1673.1 439.3,1702.1 444.4,1722.1 449.4,1733.3 454.5,1740.0 459.5,1753.4 464.6,1653.0 469.6,1645.5 474.7,1678.1 479.7,1701.6 484.8,1716.1 489.8,1730.6 494.9,1737.8 499.9,1640.1 505.0,1627.4 510.0,1650.9 515.1,1685.3 520.1,1705.2 525.2,1654.6 530.3,1708.0 535.0,1700.5 545.1,1675.4 555.1,1675.4 562.6,1670.4 567.6,1680.5 572.6,1683.0 577.6,1622.8 585.2,1620.3 592.7,1650.4 600.2,1700.5 607.7,1720.6 615.2,1735.6 622.8,1753.1 627.8,1760.7 632.8,1700.5 637.8,1660.4 642.8,1655.4 650.3,1600.3 656.6,1605.3 660.4,1645.4 665.4,1675.4 670.4,1650.4 676.6,1535.1 682.9,1600.3 687.9,1655.4 692.9,1688.0 697.9,1713.0 705.5,1738.1 713.0,1743.1 718.0,1744.4 723.0,1675.4 730.5,1600.3 735.5,1572.7 740.6,1562.7 745.6,1625.3 753.1,1640.4 758.1,1650.4 763.1,1695.5 770.6,1720.6 775.6,1730.6 783.2,1650.4 788.2,1620.3 793.2,1675.4 798.2,1705.5 805.7,1730.6 813.2,1745.6 820.8,1765.7 828.3,1790.7 835.8,1793.2 843.3,1775.7 848.3,1675.4 853.3,1630.3 858.3,1650.4 863.4,1690.5 870.9,1720.6 878.4,1740.6 888.4,1745.6 895.9,1750.6 903.5,1743.1 911.0,1740.6 920.0,1720.6 925.0,1675.4 930.0,1672.9 935.0,1650.4 945.1,1605.3 952.6,1655.4 957.6,1700.5 965.1,1718.0 972.6,1750.6 980.2,1763.2 987.7,1783.2 995.2,1790.7 1002.7,1795.7 1012.7,1803.3 1020.3,1805.8 1022.8,1650.4 1025.3,1597.7 1030.3,1620.3 1035.3,1690.5 1040.3,1715.5 1050.3,1750.6 1060.4,1765.7 1070.4,1788.2 1080.4,1813.3 1087.9,1735.6 1091.7,1680.5 1097.9,1720.6 1105.5,1735.6 1113.0,1750.6 1120.5,1755.6 1128.0,1760.7 1138.0,1788.2 1145.6,1793.2 1153.1,1798.2 1160.6,1808.3 1168.1,1818.3 1178.1,1825.8 1185.7,1830.8 1193.2,1815.8 1198.2,1810.8 1208.2,1815.8 1215.7,1820.8 1220.8,1795.7 1225.8,1720.6 1233.3,1733.1 1243.3,1765.7 1253.3,1730.6 1260.9,1728.1 1270.9,1743.1 1283.4,1760.7 1293.4,1685.5 1301.0,1725.6 1308.5,1745.6 1316.0,1675.4 1320.0,1670.4 1325.0,1708.0 1332.5,1725.6 1337.5,1700.5 1342.6,1688.0 1350.1,1695.5 1357.6,1708.0 1362.6,1675.4 1367.6,1607.8 1372.6,1640.4 1377.6,1685.5 1385.2,1698.0 1392.7,1715.5 1400.2,1733.1 1405.2,1735.6 1412.7,1723.1 1420.3,1730.6 1430.3,1740.6 1440.3,1748.1 1447.8,1758.1 1455.3,1763.2 1462.9,1758.1 1470.4,1768.2 1480.4,1778.2 1490.4,1778.2 1500.5,1783.2 1505.5,1725.6 1510.5,1600.3 1518.0,1655.4 1525.5,1700.5 1533.0,1715.5 1540.6,1725.6 1548.1,1743.1 1553.1,1753.1 1560.6,1755.6 1565.6,1690.5 1570.6,1655.4 1578.1,1650.4 1585.7,1597.7 1590.7,1605.3 1595.7,1570.2 1600.7,1552.6 1605.7,1587.7 1610.7,1650.4 1615.7,1700.5 1620.8,1718.0 1630.8,1730.6 1640.8,1745.6 1650.8,1743.1 1658.3,1758.1 1665.9,1753.1 1673.4,1725.6 1680.9,1675.4 1685.9,1667.9 1693.4,1688.0 1698.4,1625.3 1702.2,1565.2 1707.2,1625.3 1713.5,1700.5 1720.0,1708.0 1725.0,1720.6 1732.5,1740.6 1740.1,1738.1 1747.6,1735.6 1752.6,1700.5 1757.6,1660.4 1762.6,1675.4 1767.6,1695.5 1772.6,1713.0 1777.6,1675.4 1782.7,1650.4 1787.7,1675.4 1795.2,1700.5 1800.2,1718.0 1807.7,1720.6 1812.7,1743.1 1817.7,1675.4 1822.8,1672.9 1827.8,1657.9 1832.8,1645.4 1837.8,1605.3 1842.8,1680.5 1847.8,1615.3 1852.8,1640.4 1860.4,1690.5 1865.4,1700.5 1870.4,1615.3 1875.4,1650.4 1880.4,1672.9 1885.4,1640.4 1892.9,1665.4 1900.5,1693.0 1905.5,1655.4 1910.5,1570.2 1915.5,1570.2 1920.5,1605.3 1925.5,1600.3 1930.5,1650.4 1935.5,1675.4 1938.0,1535.1 1945.6,1522.6 1948.1,1550.1 1950.6,1650.4 1958.1,1695.5 1960.6,1700.5 1965.6,1665.4 1970.6,1667.9 1978.1,1700.5 1983.2,1720.6 1990.7,1735.6 1998.2,1718.0 2003.2,1725.6 2010.7,1738.1 2018.2,1748.1 2023.3,1720.6 2028.3,1700.5 2035.8,1650.4 2043.3,1675.4 2048.3,1700.5 2055.8,1725.6 2063.4,1738.1 2070.9,1700.5 2075.9,1650.4 2080.9,1600.3 2085.9,1625.3 2090.9,1665.4 2095.9,1700.5 2097.2,1708.0" fill="none" stroke="#1e90ff" stroke-width="7.9" stroke-linejoin="round" stroke-linecap="square" clip-path="url(#clip1)"/>
<polyline points="262.6,1700.8 267.6,1625.0 272.7,1657.3 277.7,1693.0 282.8,1735.3 287.8,1746.5 292.9,1775.5 297.9,1779.9 303.0,1806.7 308.0,1791.1 313.1,1706.3 318.1,1768.8 323.2,1788.8 328.2,1802.2 333.3,1812.4 338.3,1792.3 343.4,1776.7 348.4,1799.0 353.5,1821.3 358.5,1734.3 363.6,1667.4 368.6,1674.1 373.7,1741.0 378.7,1742.1 383.8,1667.4 388.8,1640.7 393.9,1636.2 398.9,1678.6 404.0,1581.7 409.0,1635.2 414.1,1657.5 419.1,1641.9 424.2,1615.1 429.2,1635.2 434.3,1646.3 439.3,1684.2 444.4,1715.4 449.4,1742.2 454.5,1755.6 459.5,1769.0 464.6,1697.6 469.6,1685.3 474.7,1670.9 479.7,1759.6 484.8,1761.4 489.8,1765.0 494.9,1770.4 499.9,1701.6 505.0,1683.5 510.0,1705.2 515.1,1727.0 520.1,1748.7 525.2,1723.4 530.3,1725.6 535.0,1745.6 540.1,1750.6 545.1,1725.6 550.1,1708.0 555.1,1725.6 560.1,1750.6 565.1,1755.6 570.1,1750.6 577.6,1725.6 585.2,1675.4 592.7,1713.0 597.7,1748.1 605.2,1768.2 612.7,1780.7 620.3,1795.7 627.8,1810.8 632.8,1775.7 637.8,1738.1 642.8,1715.5 647.8,1705.5 655.3,1698.0 660.4,1700.5 665.4,1730.6 670.4,1763.2 677.9,1695.5 682.9,1685.5 690.4,1750.6 697.9,1788.2 705.5,1800.8 713.0,1808.3 720.5,1820.8 728.0,1800.8 735.5,1700.5 740.6,1640.4 745.6,1655.4 750.6,1675.4 755.6,1738.1 760.6,1750.6 768.1,1763.2 775.6,1778.2 783.2,1750.6 790.7,1738.1 795.7,1750.6 803.2,1775.7 810.7,1825.8 818.2,1838.3 825.8,1845.9 833.3,1838.3 838.3,1800.8 843.3,1850.9 848.3,1855.9 853.3,1775.7 858.3,1700.5 863.4,1725.6 870.9,1750.6 878.4,1775.7 885.9,1790.7 893.4,1813.3 901.0,1775.7 906.0,1763.2 911.0,1800.8 920.0,1835.8 927.5,1738.1 935.0,1795.7 942.6,1705.5 947.6,1738.1 952.6,1750.6 962.6,1795.7 970.1,1805.8 980.2,1828.3 987.7,1835.8 995.2,1860.9 1000.2,1855.9 1007.7,1850.9 1010.2,1800.8 1015.2,1795.7 1022.8,1775.7 1027.8,1655.4 1035.3,1650.4 1040.3,1597.7 1045.3,1700.5 1050.3,1750.6 1055.3,1788.2 1060.4,1750.6 1065.4,1768.2 1075.4,1770.7 1085.4,1788.2 1092.9,1758.1 1100.5,1795.7 1110.5,1815.8 1120.5,1828.3 1130.5,1838.3 1140.6,1845.9 1150.6,1858.4 1158.1,1860.9 1165.6,1850.9 1173.1,1840.9 1180.7,1855.9 1190.7,1865.9 1198.2,1858.4 1208.2,1865.9 1218.2,1870.9 1223.3,1825.8 1228.3,1805.8 1235.8,1818.3 1245.8,1825.8 1258.3,1813.3 1265.9,1825.8 1275.9,1845.9 1283.4,1845.9 1290.9,1785.7 1298.4,1808.3 1306.0,1813.3 1313.5,1800.8 1320.0,1770.7 1325.0,1800.8 1332.5,1818.3 1337.5,1795.7 1342.6,1780.7 1352.6,1793.2 1360.1,1785.7 1365.1,1738.1 1370.1,1700.5 1375.1,1725.6 1382.7,1763.2 1390.2,1788.2 1397.7,1800.8 1407.7,1798.2 1417.7,1800.8 1425.3,1803.3 1432.8,1810.8 1442.8,1815.8 1450.3,1813.3 1460.4,1820.8 1470.4,1803.3 1480.4,1808.3 1490.4,1813.3 1500.5,1815.8 1505.5,1750.6 1510.5,1662.9 1515.5,1695.5 1520.5,1733.1 1528.0,1743.1 1535.5,1750.6 1545.6,1763.2 1553.1,1775.7 1560.6,1763.2 1568.1,1730.6 1573.1,1708.0 1578.1,1718.0 1583.2,1667.9 1590.7,1690.5 1595.7,1662.9 1600.7,1642.9 1605.7,1665.4 1613.2,1675.4 1620.8,1695.5 1630.8,1720.6 1638.3,1733.1 1645.8,1740.6 1653.3,1748.1 1660.9,1765.7 1668.4,1758.1 1675.9,1688.0 1685.9,1695.5 1695.9,1688.0 1702.2,1612.8 1708.5,1655.4 1713.5,1662.9 1720.0,1675.4 1725.0,1725.6 1730.0,1698.0 1737.5,1703.0 1745.1,1700.5 1750.1,1688.0 1755.1,1645.4 1762.6,1650.4 1770.1,1655.4 1775.1,1620.3 1782.7,1615.3 1787.7,1632.8 1795.2,1640.4 1802.7,1662.9 1810.2,1657.9 1815.2,1630.3 1820.3,1622.8 1825.3,1620.3 1832.8,1582.7 1840.3,1615.3 1847.8,1575.2 1855.3,1612.8 1862.9,1620.3 1867.9,1580.2 1875.4,1605.3 1882.9,1607.8 1890.4,1620.3 1897.9,1640.4 1903.0,1567.7 1910.5,1572.7 1918.0,1595.2 1924.3,1567.7 1930.5,1622.8 1935.5,1620.3 1940.6,1555.1 1945.6,1557.6 1950.6,1600.3 1955.6,1630.3 1960.6,1640.4 1968.1,1630.3 1975.6,1630.3 1983.2,1640.4 1988.2,1657.9 1995.7,1665.4 2003.2,1660.4 2010.7,1665.4 2018.2,1675.4 2025.8,1665.4 2033.3,1635.3 2040.8,1622.8 2048.3,1647.9 2055.8,1675.4 2060.9,1693.0 2065.9,1675.4 2070.9,1753.1 2075.9,1665.4 2080.9,1620.3 2085.9,1625.3 2093.4,1642.9 2097.2,1662.9" fill="none" stroke="#008000" stroke-width="7.9" stroke-linejoin="round" stroke-linecap="square" clip-path="url(#clip1)"/>
<polyline points="262.6,1621.6 267.6,1603.8 272.7,1650.6 277.7,1728.6 282.8,1759.9 287.8,1773.2 292.9,1820.1 297.9,1831.2 303.0,1841.3 308.0,1824.5 313.1,1686.3 318.1,1779.9 323.2,1793.3 328.2,1815.6 333.3,1828.0 338.3,1787.8 343.4,1816.8 348.4,1810.1 353.5,1845.8 358.5,1716.5 363.6,1640.7 368.6,1669.6 373.7,1770.0 378.7,1787.8 383.8,1622.8 388.8,1627.3 393.9,1620.6 398.9,1698.6 404.0,1597.3 409.0,1632.9 414.1,1650.8 419.1,1628.5 424.2,1621.8 429.2,1650.8 434.3,1621.8 439.3,1690.9 444.4,1724.4 449.4,1755.6 454.5,1800.2 459.5,1806.9 464.6,1697.6 469.6,1683.5 474.7,1647.3 479.7,1765.0 484.8,1777.7 489.8,1810.3 494.9,1824.7 499.9,1710.7 505.0,1676.3 510.0,1676.3 515.1,1741.5 520.1,1781.3 525.2,1736.0 530.3,1763.2 532.5,1775.7 540.1,1790.7 545.1,1622.8 550.1,1690.5 555.1,1637.8 560.1,1738.1 565.1,1720.6 570.1,1738.1 575.1,1800.8 585.2,1622.8 595.2,1700.5 602.7,1788.2 610.2,1800.8 615.2,1825.8 620.3,1843.4 630.3,1840.9 637.8,1835.8 642.8,1775.7 647.8,1713.0 655.3,1700.5 660.4,1750.6 665.4,1770.7 670.4,1750.6 675.4,1700.5 682.9,1622.8 690.4,1700.5 697.9,1740.6 705.5,1795.7 713.0,1788.2 718.0,1763.2 723.0,1800.8 728.0,1650.4 733.0,1602.8 740.6,1625.3 745.6,1645.4 753.1,1655.4 758.1,1675.4 765.6,1750.6 773.1,1788.2 780.7,1690.5 785.7,1810.8 790.7,1775.7 798.2,1815.8 805.7,1830.8 813.2,1848.4 818.2,1805.8 823.3,1843.4 828.3,1805.8 833.3,1750.6 838.3,1705.5 843.3,1750.6 848.3,1800.8 853.3,1640.4 858.3,1650.4 863.4,1725.6 868.4,1765.7 873.4,1750.6 878.4,1760.7 885.9,1768.2 893.4,1775.7 898.4,1740.6 906.0,1750.6 913.5,1775.7 920.0,1795.7 925.0,1735.6 932.5,1733.1 937.5,1720.6 945.1,1645.4 952.6,1725.6 957.6,1718.0 962.6,1788.2 970.1,1773.2 980.2,1770.7 990.2,1768.2 995.2,1790.7 1005.2,1780.7 1012.7,1770.7 1017.7,1785.7 1022.8,1713.0 1027.8,1640.4 1035.3,1625.3 1040.3,1637.8 1045.3,1650.4 1050.3,1690.5 1055.3,1733.1 1060.4,1708.0 1065.4,1750.6 1070.4,1753.1 1075.4,1770.7 1082.9,1763.2 1090.4,1725.6 1097.9,1740.6 1105.5,1775.7 1115.5,1770.7 1123.0,1763.2 1128.0,1793.2 1138.0,1800.8 1148.1,1820.8 1158.1,1833.3 1165.6,1840.9 1173.1,1845.9 1180.7,1865.9 1188.2,1855.9 1195.7,1850.9 1203.2,1870.9 1208.2,1886.0 1213.2,1865.9 1220.8,1780.7 1225.8,1778.2 1230.8,1808.3 1235.8,1820.8 1243.3,1843.4 1250.8,1825.8 1258.3,1815.8 1265.9,1840.9 1273.4,1850.9 1280.9,1863.4 1288.4,1803.3 1293.4,1770.7 1298.4,1800.8 1303.5,1848.4 1311.0,1840.9 1320.0,1763.2 1325.0,1800.8 1332.5,1825.8 1340.1,1813.3 1347.6,1800.8 1352.6,1753.1 1357.6,1780.7 1362.6,1760.7 1370.1,1748.1 1377.6,1745.6 1382.7,1785.7 1387.7,1783.2 1395.2,1800.8 1402.7,1813.3 1410.2,1788.2 1417.7,1798.2 1424.0,1753.1 1430.3,1795.7 1437.8,1813.3 1445.3,1818.3 1450.3,1833.3 1460.4,1835.8 1470.4,1845.9 1477.9,1848.4 1485.4,1833.3 1490.4,1853.4 1500.5,1853.4 1506.7,1850.9 1510.5,1750.6 1515.5,1708.0 1520.5,1725.6 1525.5,1715.5 1530.5,1738.1 1540.6,1760.7 1545.6,1788.2 1550.6,1790.7 1555.6,1808.3 1560.6,1800.8 1565.6,1810.8 1570.6,1690.5 1575.6,1715.5 1580.7,1695.5 1585.7,1622.8 1590.7,1660.4 1595.7,1622.8 1600.7,1615.3 1605.7,1620.3 1613.2,1622.8 1620.8,1650.4 1625.8,1715.5 1630.8,1718.0 1637.0,1677.9 1643.3,1750.6 1648.3,1825.8 1652.1,1873.4 1655.8,1825.8 1660.9,1825.8 1665.9,1793.2 1670.9,1753.1 1675.9,1775.7 1683.4,1738.1 1690.9,1705.5 1698.4,1680.5 1702.2,1635.3 1708.5,1705.5 1716.0,1700.5 1720.0,1750.6 1725.0,1783.2 1730.0,1790.7 1735.0,1738.1 1737.5,1715.5 1745.1,1713.0 1750.1,1650.4 1757.6,1622.8 1762.6,1645.4 1770.1,1625.3 1777.6,1627.8 1785.2,1617.8 1792.7,1627.8 1800.2,1635.3 1807.7,1650.4 1815.2,1667.9 1822.8,1647.9 1830.3,1632.8 1837.8,1627.8 1845.3,1640.4 1852.8,1622.8 1860.4,1635.3 1867.9,1620.3 1875.4,1625.3 1882.9,1630.3 1890.4,1622.8 1897.9,1632.8 1905.5,1620.3 1913.0,1620.3 1920.5,1617.8 1925.5,1615.3 1933.0,1622.8 1940.6,1617.8 1945.6,1610.3 1950.6,1620.3 1960.6,1622.8 1968.1,1620.3 1975.6,1622.8 1985.7,1640.4 1990.7,1620.3 2000.7,1622.8 2005.7,1640.4 2010.7,1622.8 2018.2,1630.3 2023.3,1610.3 2028.3,1667.9 2033.3,1625.3 2038.3,1640.4 2045.8,1660.4 2050.8,1680.5 2055.8,1718.0 2063.4,1710.5 2068.4,1745.6 2073.4,1730.6 2078.4,1620.3 2085.9,1625.3 2093.4,1622.8 2097.2,1622.8" fill="none" stroke="#ff0000" stroke-width="7.9" stroke-linejoin="round" stroke-linecap="square" clip-path="url(#clip1)"/>
<rect x="250.0" y="1496.1" width="277.7" height="367.9" fill="none" stroke="#000" stroke-width="6.8"/>
<line x1="766.7" y1="1345.2" x2="527.7" y2="1496.1" stroke="#000" stroke-width="4.9"/>
<line x1="766.7" y1="1587.0" x2="527.7" y2="1863.9" stroke="#000" stroke-width="4.9"/>
<rect x="766.7" y="1345.2" width="812.1" height="241.8" fill="#fff"/>
<polyline points="803.6,1483.6 818.4,1458.7 833.1,1466.0 847.9,1501.2 862.7,1518.8 877.4,1521.7 892.2,1523.9 907.0,1523.9 921.7,1525.4 936.5,1521.7 951.3,1530.5 966.0,1545.2 980.8,1551.0 995.6,1551.8 1010.3,1554.8 1025.1,1534.2 1039.9,1524.0 1054.6,1543.0 1069.4,1550.4 1084.2,1510.8 1098.9,1477.0 1113.7,1484.4 1128.5,1503.4 1143.2,1506.4 1158.0,1487.3 1172.8,1444.8 1187.5,1472.6 1202.3,1515.2 1217.0,1442.6 1231.8,1454.4 1246.6,1494.0 1261.3,1479.3 1276.1,1444.1 1290.9,1495.4 1305.6,1491.0 1320.4,1516.0 1335.2,1532.1 1349.9,1536.5 1364.7,1537.2 1379.5,1537.9 1394.2,1476.4 1409.0,1481.7 1423.8,1509.0 1438.5,1525.7 1453.3,1528.1 1468.1,1528.1 1482.8,1529.3 1497.6,1482.9 1512.4,1475.7 1527.1,1503.1 1541.9,1524.5 1556.7,1518.6 1571.4,1493.6 1586.2,1503.1" fill="none" stroke="#bf00bf" stroke-width="6.6" stroke-linejoin="round" stroke-linecap="square" stroke-opacity="0.7" clip-path="url(#iclip1)"/>
<polyline points="803.6,1527.6 818.4,1466.0 833.1,1482.1 847.9,1493.8 862.7,1501.2 877.4,1514.4 892.2,1515.1 907.0,1510.7 921.7,1509.2 936.5,1498.2 951.3,1493.8 966.0,1505.6 980.8,1510.0 995.6,1512.2 1010.3,1516.6 1025.1,1497.6 1039.9,1475.6 1054.6,1484.4 1069.4,1491.7 1084.2,1440.4 1098.9,1414.0 1113.7,1443.3 1128.5,1463.8 1143.2,1481.4 1158.0,1443.3 1172.8,1397.1 1187.5,1446.2 1202.3,1471.2 1217.0,1354.7 1231.8,1441.2 1246.6,1466.1 1261.3,1448.5 1276.1,1406.0 1290.9,1428.0 1305.6,1461.7 1320.4,1480.8 1335.2,1494.0 1349.9,1501.3 1364.7,1505.7 1379.5,1514.5 1394.2,1448.5 1409.0,1443.6 1423.8,1465.0 1438.5,1480.5 1453.3,1490.0 1468.1,1499.5 1482.8,1504.3 1497.6,1440.0 1512.4,1431.7 1527.1,1447.1 1541.9,1469.8 1556.7,1482.9 1571.4,1449.5 1586.2,1459.0" fill="none" stroke="#1e90ff" stroke-width="6.6" stroke-linejoin="round" stroke-linecap="square" stroke-opacity="0.7" clip-path="url(#iclip1)"/>
<polyline points="803.6,1479.9 818.4,1430.1 833.1,1451.3 847.9,1474.8 862.7,1502.6 877.4,1510.0 892.2,1529.0 907.0,1532.0 921.7,1549.6 936.5,1539.3 951.3,1483.6 966.0,1524.6 980.8,1537.8 995.6,1546.6 1010.3,1553.3 1025.1,1540.1 1039.9,1529.8 1054.6,1544.5 1069.4,1559.1 1084.2,1502.0 1098.9,1458.0 1113.7,1462.4 1128.5,1506.4 1143.2,1507.1 1158.0,1458.0 1172.8,1440.4 1187.5,1437.4 1202.3,1465.3 1217.0,1401.6 1231.8,1436.8 1246.6,1451.4 1261.3,1441.2 1276.1,1423.6 1290.9,1436.8 1305.6,1444.1 1320.4,1469.0 1335.2,1489.6 1349.9,1507.2 1364.7,1516.0 1379.5,1524.8 1394.2,1477.8 1409.0,1469.8 1423.8,1460.2 1438.5,1518.6 1453.3,1519.8 1468.1,1522.1 1482.8,1525.7 1497.6,1480.5 1512.4,1468.6 1527.1,1482.9 1541.9,1497.1 1556.7,1511.4 1571.4,1494.8 1586.2,1497.1" fill="none" stroke="#008000" stroke-width="6.6" stroke-linejoin="round" stroke-linecap="square" stroke-opacity="0.7" clip-path="url(#iclip1)"/>
<polyline points="803.6,1427.9 818.4,1416.1 833.1,1446.9 847.9,1498.2 862.7,1518.8 877.4,1527.6 892.2,1558.4 907.0,1565.7 921.7,1572.3 936.5,1561.3 951.3,1470.4 966.0,1532.0 980.8,1540.8 995.6,1555.4 1010.3,1563.5 1025.1,1537.2 1039.9,1556.2 1054.6,1551.8 1069.4,1575.3 1084.2,1490.2 1098.9,1440.4 1113.7,1459.4 1128.5,1525.4 1143.2,1537.2 1158.0,1428.7 1172.8,1431.6 1187.5,1427.2 1202.3,1478.5 1217.0,1411.8 1231.8,1435.3 1246.6,1447.0 1261.3,1432.4 1276.1,1428.0 1290.9,1447.0 1305.6,1428.0 1320.4,1473.4 1335.2,1495.4 1349.9,1516.0 1364.7,1545.3 1379.5,1549.7 1394.2,1477.8 1409.0,1468.6 1423.8,1444.8 1438.5,1522.1 1453.3,1530.5 1468.1,1551.9 1482.8,1561.4 1497.6,1486.4 1512.4,1463.8 1527.1,1463.8 1541.9,1506.7 1556.7,1532.9 1571.4,1503.1 1586.2,1526.9" fill="none" stroke="#ff0000" stroke-width="6.6" stroke-linejoin="round" stroke-linecap="square" stroke-opacity="0.7" clip-path="url(#iclip1)"/>
<rect x="766.7" y="1345.2" width="812.1" height="241.8" fill="none" stroke="#000" stroke-width="3.8"/>
<line x1="803.6" y1="1587" x2="803.6" y2="1600.4" stroke="#000" stroke-width="3.8"/>
<text x="803.6" y="1642.5" text-anchor="middle" font-size="36.9" fill="#000" stroke="#000" >0</text>
<line x1="951.3" y1="1587" x2="951.3" y2="1600.4" stroke="#000" stroke-width="3.8"/>
<text x="951.3" y="1642.5" text-anchor="middle" font-size="36.9" fill="#000" stroke="#000" >10</text>
<line x1="1098.9" y1="1587" x2="1098.9" y2="1600.4" stroke="#000" stroke-width="3.8"/>
<text x="1098.9" y="1642.5" text-anchor="middle" font-size="36.9" fill="#000" stroke="#000" >20</text>
<line x1="1246.6" y1="1587" x2="1246.6" y2="1600.4" stroke="#000" stroke-width="3.8"/>
<text x="1246.6" y="1642.5" text-anchor="middle" font-size="36.9" fill="#000" stroke="#000" >30</text>
<line x1="1394.2" y1="1587" x2="1394.2" y2="1600.4" stroke="#000" stroke-width="3.8"/>
<text x="1394.2" y="1642.5" text-anchor="middle" font-size="36.9" fill="#000" stroke="#000" >40</text>
<line x1="1541.9" y1="1587" x2="1541.9" y2="1600.4" stroke="#000" stroke-width="3.8"/>
<text x="1541.9" y="1642.5" text-anchor="middle" font-size="36.9" fill="#000" stroke="#000" >50</text>
<line x1="753.3" y1="1563.9" x2="766.7" y2="1563.9" stroke="#000" stroke-width="3.8"/>
<text x="741.2" y="1577.5" text-anchor="end" font-size="36.9" fill="#000" stroke="#000" >0.2</text>
<line x1="753.3" y1="1457.9" x2="766.7" y2="1457.9" stroke="#000" stroke-width="3.8"/>
<text x="741.2" y="1471.5" text-anchor="end" font-size="36.9" fill="#000" stroke="#000" >0.4</text>
<line x1="753.3" y1="1352.0" x2="766.7" y2="1352.0" stroke="#000" stroke-width="3.8"/>
<text x="741.2" y="1365.6" text-anchor="end" font-size="36.9" fill="#000" stroke="#000" >0.6</text>
<polyline points="262.6,1206.6 267.6,1237.6 272.7,1184.0 303.0,1184.0 308.0,1198.5 313.1,1184.0 333.3,1184.0 338.3,1206.6 343.4,1184.0 348.4,1184.0 353.5,1196.1 358.5,1236.4 363.6,1200.1 368.6,1185.6 373.7,1192.1 378.7,1208.2 383.8,1246.1 388.8,1208.2 393.9,1192.1 398.9,1196.1 404.0,1560.4 409.0,1224.3 414.1,1185.6 419.1,1246.1 424.2,1208.2 429.2,1185.6 434.3,1184.0 454.5,1184.0 459.5,1192.1 464.6,1248.9 469.6,1185.6 474.7,1184.0 489.8,1184.0 494.9,1200.1 499.9,1260.2 505.0,1200.1 510.0,1188.0 515.1,1184.0 520.1,1188.0 525.2,1211.4 530.2,1185.6 535.3,1184.0 540.3,1192.1 545.4,1240.2 550.4,1192.1 555.5,1192.1 560.5,1192.1 565.6,1200.1 570.6,1188.0 575.7,1200.1 580.7,1236.4 585.8,1188.0 590.8,1184.0 626.2,1184.0 631.2,1200.1 636.3,1223.9 641.3,1188.0 646.4,1208.2 651.4,1294.4 656.5,1208.2 661.5,1184.0 666.6,1208.2 671.6,1264.6 676.7,1311.3 681.7,1200.1 686.8,1184.0 717.1,1184.0 722.1,1224.3 727.2,1280.7 732.2,1309.7 737.3,1232.4 742.3,1188.0 747.4,1200.1 752.4,1188.0 757.5,1184.0 772.6,1184.0 777.7,1224.3 782.7,1257.0 787.8,1192.1 792.8,1184.0 833.2,1184.0 838.3,1188.0 843.3,1184.0 848.4,1208.2 853.4,1401.6 858.5,1184.0 878.7,1188.0 883.7,1184.0 898.9,1189.6 903.9,1184.0 914.0,1184.0 919.1,1200.1 924.1,1219.5 929.2,1192.1 934.2,1232.4 939.3,1283.1 944.3,1188.0 949.4,1184.0 1015.0,1184.0 1020.1,1208.2 1025.1,1400.0 1030.2,1188.0 1035.2,1184.0 1075.6,1184.0 1080.7,1192.1 1085.7,1219.5 1090.8,1184.0 1111.0,1184.0 1116.0,1188.8 1121.1,1184.0 1186.7,1184.0 1191.7,1188.8 1196.8,1184.0 1217.0,1184.0 1222.0,1206.3 1227.1,1184.0 1247.3,1184.0 1252.3,1196.9 1257.4,1184.0 1282.6,1188.0 1287.7,1206.3 1292.7,1184.0 1307.9,1184.0 1312.9,1206.3 1318.0,1184.0 1333.1,1184.0 1338.2,1202.5 1343.2,1188.0 1348.3,1192.1 1353.3,1184.0 1358.4,1200.1 1363.4,1232.4 1368.5,1184.0 1403.8,1184.0 1408.9,1188.0 1413.9,1184.0 1419.0,1184.0 1424.0,1185.6 1429.1,1184.0 1499.8,1184.0 1504.8,1200.1 1509.9,1279.9 1514.9,1184.0 1565.4,1184.0 1570.5,1223.5 1575.5,1192.1 1580.6,1208.2 1585.6,1254.9 1590.7,1280.7 1595.7,1379.1 1600.8,1208.2 1605.8,1184.0 1671.5,1184.0 1676.5,1192.1 1681.6,1215.4 1686.6,1188.0 1691.7,1184.0 1696.7,1208.2 1701.8,1302.5 1706.8,1184.0 1742.2,1184.0 1747.2,1192.1 1752.3,1232.4 1757.3,1184.0 1767.4,1184.0 1772.5,1188.0 1777.5,1218.7 1782.6,1184.0 1802.8,1187.2 1807.8,1187.2 1812.9,1196.1 1817.9,1217.6 1823.0,1188.0 1828.0,1208.2 1833.1,1252.5 1838.1,1208.2 1843.2,1232.4 1848.2,1296.8 1853.3,1208.2 1858.3,1188.0 1863.4,1208.2 1868.4,1251.7 1873.5,1200.1 1878.5,1188.0 1883.6,1222.7 1888.6,1188.0 1893.7,1185.6 1898.7,1188.0 1903.8,1296.0 1908.8,1232.4 1913.9,1208.2 1918.9,1196.1 1924.0,1267.8 1929.0,1208.2 1934.1,1188.0 1939.1,1188.0 1944.2,1358.1 1949.2,1188.0 1954.3,1184.0 1959.3,1188.0 1964.4,1205.8 1969.4,1185.6 1989.6,1184.0 1994.7,1192.1 1999.7,1184.0 2014.9,1184.0 2019.9,1196.1 2025.0,1186.4 2030.0,1192.1 2035.0,1227.5 2040.1,1186.4 2060.3,1188.0 2065.3,1200.9 2070.4,1188.0 2075.4,1196.1 2080.5,1308.1 2085.5,1216.2 2090.6,1192.1 2095.6,1184.0" fill="none" stroke="#0000ff" stroke-width="7.9" stroke-linejoin="round" stroke-linecap="square" clip-path="url(#clip1)"/>
<rect x="929.1" y="1906.6" width="1240.2" height="63.2" rx="7" ry="7" fill="#fff" fill-opacity="0.8" stroke="#cccccc" stroke-opacity="0.8" stroke-width="4"/>
<line x1="938.7" y1="1935.6" x2="1019.7" y2="1935.6" stroke="#bf00bf" stroke-width="7.8"/>
<text x="1044.4" y="1949.4" text-anchor="start" font-size="36.9" fill="#000" stroke="#000" >SCE-UA</text>
<line x1="1249.4" y1="1935.6" x2="1330.4" y2="1935.6" stroke="#1e90ff" stroke-width="7.8"/>
<text x="1355.1" y="1949.4" text-anchor="start" font-size="36.9" fill="#000" stroke="#000" >LSTM<tspan font-style="italic" font-size="25.8" dy="5.6">Z</tspan></text>
<line x1="1538.9" y1="1935.6" x2="1619.9" y2="1935.6" stroke="#008000" stroke-width="7.8"/>
<text x="1644.6" y="1949.4" text-anchor="start" font-size="36.9" fill="#000" stroke="#000" >ParaFormer<tspan font-style="italic" font-size="25.8" dy="5.6">Z</tspan></text>
<line x1="1947.4" y1="1935.6" x2="2028.4" y2="1935.6" stroke="#ff0000" stroke-width="7.8"/>
<text x="2053.1" y="1949.4" text-anchor="start" font-size="36.9" fill="#000" stroke="#000" >SMAP</text>
<rect x="158" y="1184" width="2030" height="806" fill="none" stroke="#000" stroke-width="3.8"/>
<line x1="262.6" y1="1990" x2="262.6" y2="2003.4" stroke="#000" stroke-width="3.8"/>
<text x="262.6" y="2045" text-anchor="middle" font-size="36.9" fill="#000" stroke="#000" >0</text>
<line x1="515.1" y1="1990" x2="515.1" y2="2003.4" stroke="#000" stroke-width="3.8"/>
<text x="515.1" y="2045" text-anchor="middle" font-size="36.9" fill="#000" stroke="#000" >50</text>
<line x1="767.6" y1="1990" x2="767.6" y2="2003.4" stroke="#000" stroke-width="3.8"/>
<text x="767.6" y="2045" text-anchor="middle" font-size="36.9" fill="#000" stroke="#000" >100</text>
<line x1="1020.1" y1="1990" x2="1020.1" y2="2003.4" stroke="#000" stroke-width="3.8"/>
<text x="1020.1" y="2045" text-anchor="middle" font-size="36.9" fill="#000" stroke="#000" >150</text>
<line x1="1272.5" y1="1990" x2="1272.5" y2="2003.4" stroke="#000" stroke-width="3.8"/>
<text x="1272.5" y="2045" text-anchor="middle" font-size="36.9" fill="#000" stroke="#000" >200</text>
<line x1="1525.0" y1="1990" x2="1525.0" y2="2003.4" stroke="#000" stroke-width="3.8"/>
<text x="1525" y="2045" text-anchor="middle" font-size="36.9" fill="#000" stroke="#000" >250</text>
<line x1="1777.5" y1="1990" x2="1777.5" y2="2003.4" stroke="#000" stroke-width="3.8"/>
<text x="1777.5" y="2045" text-anchor="middle" font-size="36.9" fill="#000" stroke="#000" >300</text>
<line x1="2030.0" y1="1990" x2="2030.0" y2="2003.4" stroke="#000" stroke-width="3.8"/>
<text x="2030" y="2045" text-anchor="middle" font-size="36.9" fill="#000" stroke="#000" >350</text>
<line x1="144.6" y1="1990.0" x2="158" y2="1990.0" stroke="#000" stroke-width="3.8"/>
<text x="133.5" y="2003.6" text-anchor="end" font-size="36.9" fill="#000" stroke="#000" >0.0</text>
<line x1="144.6" y1="1828.8" x2="158" y2="1828.8" stroke="#000" stroke-width="3.8"/>
<text x="133.5" y="1842.4" text-anchor="end" font-size="36.9" fill="#000" stroke="#000" >0.2</text>
<line x1="144.6" y1="1667.6" x2="158" y2="1667.6" stroke="#000" stroke-width="3.8"/>
<text x="133.5" y="1681.2" text-anchor="end" font-size="36.9" fill="#000" stroke="#000" >0.4</text>
<line x1="144.6" y1="1506.4" x2="158" y2="1506.4" stroke="#000" stroke-width="3.8"/>
<text x="133.5" y="1520" text-anchor="end" font-size="36.9" fill="#000" stroke="#000" >0.6</text>
<line x1="144.6" y1="1345.2" x2="158" y2="1345.2" stroke="#000" stroke-width="3.8"/>
<text x="133.5" y="1358.8" text-anchor="end" font-size="36.9" fill="#000" stroke="#000" >0.8</text>
<line x1="144.6" y1="1184.0" x2="158" y2="1184.0" stroke="#000" stroke-width="3.8"/>
<text x="133.5" y="1197.6" text-anchor="end" font-size="36.9" fill="#000" stroke="#000" >1.0</text>
<line x1="2188" y1="1184.0" x2="2201.4" y2="1184.0" stroke="#000" stroke-width="3.8"/>
<text x="2213.5" y="1197.6" text-anchor="start" font-size="36.9" fill="#000" stroke="#000" >0</text>
<line x1="2188" y1="1345.2" x2="2201.4" y2="1345.2" stroke="#000" stroke-width="3.8"/>
<text x="2213.5" y="1358.8" text-anchor="start" font-size="36.9" fill="#000" stroke="#000" >2</text>
<line x1="2188" y1="1506.4" x2="2201.4" y2="1506.4" stroke="#000" stroke-width="3.8"/>
<text x="2213.5" y="1520" text-anchor="start" font-size="36.9" fill="#000" stroke="#000" >4</text>
<line x1="2188" y1="1667.6" x2="2201.4" y2="1667.6" stroke="#000" stroke-width="3.8"/>
<text x="2213.5" y="1681.2" text-anchor="start" font-size="36.9" fill="#000" stroke="#000" >6</text>
<line x1="2188" y1="1828.8" x2="2201.4" y2="1828.8" stroke="#000" stroke-width="3.8"/>
<text x="2213.5" y="1842.4" text-anchor="start" font-size="36.9" fill="#000" stroke="#000" >8</text>
<line x1="2188" y1="1990.0" x2="2201.4" y2="1990.0" stroke="#000" stroke-width="3.8"/>
<text x="2213.5" y="2003.6" text-anchor="start" font-size="36.9" fill="#000" stroke="#000" >10</text>
<text x="1173.8" y="2093.2" text-anchor="middle" font-size="36.9" fill="#000" stroke="#000" >Time (day)</text>
<text x="0" y="0" text-anchor="middle" font-size="36.9" stroke="#000" transform="translate(53.3,1588.0) rotate(-90)">Soil Moisture (100%)</text>
<text x="0" y="0" text-anchor="middle" font-size="36.9" fill="#0000ff" stroke="#0000ff" textLength="414.2" lengthAdjust="spacingAndGlyphs" transform="translate(2302.2,1583.4) rotate(-90)">Precipitation (mm/day)</text>
<text class="lab" x="1121.5" y="2202.5" text-anchor="middle" font-family="'Liberation Serif', serif" font-size="65">(<tspan font-weight="bold" font-size="68" dx="1.2" dy="3.2">d</tspan><tspan dx="1" dy="-3.2">)</tspan></text>
<polyline points="245.9,2821.9 253.8,2817.9 261.8,2821.9 269.7,2823.9 275.7,2823.9 281.7,2837.8 289.6,2810.0 295.6,2835.8 303.5,2829.8 311.5,2827.8 319.4,2827.8 327.4,2829.8 331.3,2810.0 335.3,2786.1 341.3,2804.0 349.2,2792.1 355.2,2800.0 363.1,2804.0 369.1,2806.0 377.0,2804.0 383.0,2774.2 389.0,2786.1 392.9,2798.0 398.9,2780.2 402.9,2754.3 408.8,2774.2 412.8,2766.2 418.8,2778.2 424.7,2788.1 430.7,2806.0 436.6,2798.0 442.6,2772.2 448.6,2770.2 454.5,2774.2 460.5,2762.3 468.4,2780.2 476.4,2772.2 482.3,2760.3 487.3,2776.2 494.1,2798.5 499.2,2795.6 504.3,2749.1 509.4,2744.7 514.5,2775.3 519.5,2786.9 524.6,2800.0 529.7,2789.8 534.8,2760.7 539.9,2744.7 545.0,2763.6 550.1,2763.6 555.1,2743.3 560.2,2776.7 565.3,2797.1 570.4,2800.0 575.5,2810.1 580.6,2814.5 585.7,2826.1 590.7,2817.4 595.8,2807.2 600.9,2807.2 606.0,2759.3 611.1,2770.9 616.2,2788.3 621.3,2801.4 626.3,2813.1 631.4,2795.6 636.5,2801.4 641.6,2808.7 646.7,2749.1 651.8,2768.0 656.9,2789.8 661.9,2813.1 667.0,2801.4 672.1,2800.0 677.2,2813.1 682.3,2820.3 687.4,2807.2 692.5,2791.3 697.5,2789.8 702.6,2803.2 707.7,2764.1 712.8,2760.2 717.9,2778.4 723.0,2800.6 728.1,2783.6 733.1,2762.8 738.2,2770.6 743.3,2770.6 748.4,2777.1 753.5,2790.2 758.6,2801.9 763.7,2805.8 768.7,2816.2 773.8,2818.0 783.8,2805.5 792.6,2820.6 802.6,2818.0 810.1,2820.6 820.2,2818.0 827.7,2835.6 840.2,2808.0 847.7,2825.6 855.2,2830.6 862.8,2833.1 867.8,2775.4 875.3,2805.5 880.3,2810.5 887.8,2790.5 895.3,2808.0 905.4,2818.0 912.9,2818.0 922.9,2823.1 932.9,2823.1 945.5,2833.1 955.5,2785.5 963.0,2803.0 968.0,2805.5 975.5,2747.9 983.1,2780.5 990.6,2808.0 1000.6,2825.6 1008.1,2828.1 1018.1,2790.5 1025.7,2808.0 1033.2,2818.0 1040.7,2772.9 1048.2,2785.5 1058.2,2800.5 1068.3,2818.0 1078.3,2825.6 1088.3,2833.1 1095.8,2800.5 1105.9,2785.5 1113.4,2803.0 1120.9,2820.6 1130.9,2838.1 1141.0,2843.1 1151.0,2775.4 1160.0,2765.4 1167.5,2800.5 1177.5,2830.6 1185.1,2790.5 1191.3,2777.9 1200.1,2798.0 1210.1,2777.9 1217.6,2800.5 1225.2,2825.6 1232.7,2835.6 1242.7,2845.6 1250.2,2840.6 1260.3,2825.6 1270.3,2838.1 1277.8,2850.6 1285.3,2848.1 1290.3,2780.5 1296.6,2765.4 1302.9,2788.0 1312.9,2780.5 1320.4,2780.5 1327.9,2765.4 1335.4,2783.0 1343.0,2785.5 1350.5,2800.5 1358.0,2803.0 1365.5,2815.5 1375.5,2818.0 1385.6,2830.6 1395.6,2833.1 1403.1,2798.0 1408.1,2800.5 1415.6,2820.6 1425.7,2825.6 1435.7,2825.6 1445.7,2830.6 1453.2,2830.6 1460.8,2838.1 1470.8,2835.6 1480.8,2838.1 1495.8,2838.1 1505.9,2790.5 1513.4,2805.5 1520.9,2823.1 1530.9,2825.6 1538.4,2828.1 1546.0,2825.6 1558.5,2828.1 1560.0,2827.0 1570.7,2829.1 1581.3,2824.9 1587.7,2831.3 1594.1,2827.0 1600.5,2831.3 1606.9,2822.7 1615.4,2829.1 1623.9,2829.1 1636.7,2829.1 1643.1,2835.5 1653.7,2824.9 1666.5,2833.4 1679.3,2833.4 1687.8,2835.5 1694.2,2820.6 1700.6,2833.4 1709.1,2839.8 1715.5,2833.4 1726.2,2837.6 1732.6,2839.8 1741.1,2835.5 1749.6,2844.0 1756.0,2844.0 1764.5,2848.3 1773.0,2841.9 1779.4,2835.5 1790.1,2839.8 1796.5,2846.2 1802.9,2841.9 1815.6,2848.3 1826.3,2848.3 1832.7,2850.4 1841.2,2848.3 1849.7,2848.3 1858.3,2841.9 1866.8,2844.0 1873.2,2839.8 1881.7,2850.4 1890.2,2846.2 1900.0,2850.8 1908.6,2859.2 1917.9,2850.8 1923.4,2856.4 1928.1,2843.4 1932.7,2856.4 1938.3,2850.8 1945.7,2858.3 1955.0,2861.1 1964.3,2852.7 1971.7,2845.3 1979.1,2842.5 1986.6,2847.1 1994.0,2850.8 2003.3,2841.6 2008.8,2852.7 2014.4,2845.3 2020.0,2854.6 2027.4,2850.8 2038.6,2852.7 2044.1,2850.8 2049.7,2845.3 2057.1,2849.0 2065.5,2856.4 2072.0,2850.8 2075.7,2836.0 2080.3,2819.3 2085.0,2834.1 2090.6,2834.1 2096.1,2844.3" fill="none" stroke="#bf00bf" stroke-width="7.9" stroke-linejoin="round" stroke-linecap="square" clip-path="url(#clip2)"/>
<polyline points="245.9,2859.6 255.8,2865.6 263.8,2851.7 271.7,2855.7 280.7,2865.6 289.6,2851.7 299.5,2855.7 309.5,2851.7 317.4,2857.6 321.4,2851.7 331.3,2863.6 336.3,2815.9 343.3,2829.8 351.2,2837.8 359.1,2845.7 367.1,2853.7 373.1,2851.7 379.0,2837.8 385.0,2817.9 390.9,2825.8 398.9,2837.8 404.8,2810.0 408.8,2833.8 412.8,2823.9 420.7,2837.8 428.7,2855.7 433.7,2859.6 438.6,2849.7 443.6,2835.8 448.6,2849.7 454.5,2845.7 460.5,2835.8 466.4,2841.7 474.4,2855.7 482.3,2825.8 486.3,2821.9 494.1,2853.8 499.2,2862.5 504.3,2824.7 509.4,2817.4 514.5,2843.6 519.5,2853.8 524.6,2862.5 529.7,2852.3 534.8,2827.6 539.9,2814.5 545.0,2832.0 550.1,2823.2 555.1,2810.1 560.2,2837.8 565.3,2852.3 570.4,2863.9 575.5,2868.3 580.6,2871.2 585.7,2875.6 590.7,2871.2 595.8,2863.9 600.9,2861.0 606.0,2816.0 611.1,2832.0 616.2,2847.9 621.3,2858.1 626.3,2863.9 631.4,2846.5 636.5,2846.5 641.6,2853.8 646.7,2792.7 651.8,2829.0 656.9,2847.9 661.9,2852.3 667.0,2833.4 672.1,2845.0 677.2,2858.1 682.3,2862.5 687.4,2856.7 692.5,2837.8 697.5,2843.6 702.6,2860.6 707.7,2822.8 712.8,2829.3 717.9,2843.6 723.0,2855.4 728.1,2844.9 733.1,2825.4 738.2,2834.5 743.3,2830.6 748.4,2833.2 753.5,2847.6 758.6,2854.1 763.7,2863.2 768.7,2869.7 773.8,2865.7 783.8,2853.1 792.6,2865.7 800.1,2870.7 810.1,2858.1 820.2,2868.2 827.7,2875.7 840.2,2850.6 847.7,2868.2 855.2,2865.7 862.8,2865.7 870.3,2828.1 880.3,2860.7 887.8,2835.6 897.8,2850.6 905.4,2860.7 915.4,2868.2 922.9,2875.7 935.4,2878.2 945.5,2880.7 955.5,2838.1 963.0,2853.1 968.0,2850.6 975.5,2813.0 985.6,2845.6 993.1,2858.1 1000.6,2868.2 1008.1,2873.2 1018.1,2848.1 1025.7,2858.1 1033.2,2868.2 1040.7,2835.6 1048.2,2845.6 1058.2,2858.1 1068.3,2865.7 1078.3,2875.7 1088.3,2880.7 1095.8,2860.7 1105.9,2828.1 1113.4,2850.6 1120.9,2865.7 1130.9,2868.2 1141.0,2865.7 1151.0,2865.7 1160.0,2813.0 1167.5,2850.6 1177.5,2868.2 1182.6,2838.1 1190.1,2820.6 1197.6,2835.6 1202.6,2850.6 1210.1,2820.6 1217.6,2840.6 1225.2,2860.7 1235.2,2870.7 1245.2,2873.2 1252.7,2870.7 1262.8,2860.7 1270.3,2865.7 1277.8,2870.7 1285.3,2870.7 1290.3,2813.0 1297.8,2818.0 1305.4,2848.1 1312.9,2840.6 1320.4,2830.6 1327.9,2813.0 1332.9,2848.1 1343.0,2833.1 1350.5,2855.6 1358.0,2845.6 1365.5,2858.1 1375.5,2863.2 1385.6,2868.2 1395.6,2870.7 1403.1,2840.6 1410.6,2835.6 1418.1,2855.6 1428.2,2865.7 1438.2,2870.7 1448.2,2873.2 1458.2,2875.7 1468.3,2880.7 1478.3,2885.7 1485.8,2883.2 1495.8,2885.7 1503.4,2830.6 1510.9,2823.1 1518.4,2853.1 1528.4,2860.7 1538.4,2865.7 1548.5,2870.7 1558.5,2875.7 1560.0,2876.0 1572.8,2884.5 1581.3,2880.3 1587.7,2884.5 1598.3,2888.8 1611.1,2888.8 1623.9,2893.0 1634.6,2895.2 1645.2,2897.3 1658.0,2897.3 1670.8,2899.4 1679.3,2899.4 1685.7,2893.0 1694.2,2890.9 1700.6,2897.3 1709.1,2899.4 1717.6,2897.3 1728.3,2901.6 1741.1,2899.4 1751.7,2903.7 1760.3,2905.8 1773.0,2905.8 1781.6,2899.4 1794.3,2905.8 1805.0,2901.6 1815.6,2905.8 1828.4,2905.8 1843.3,2908.0 1854.0,2905.8 1862.5,2905.8 1873.2,2903.7 1883.8,2905.8 1892.3,2905.8 1900.0,2910.3 1903.0,2912.1 1908.6,2908.4 1917.9,2906.6 1927.1,2904.7 1938.3,2899.1 1945.7,2902.8 1955.0,2903.8 1968.0,2904.7 1979.1,2908.4 1992.1,2908.4 2001.4,2906.6 2008.8,2904.7 2020.0,2908.4 2029.3,2910.3 2038.6,2910.3 2047.8,2908.4 2059.0,2906.6 2066.4,2912.1 2072.0,2906.6 2075.7,2893.6 2079.4,2878.7 2086.8,2878.7 2096.1,2886.1" fill="none" stroke="#1e90ff" stroke-width="7.9" stroke-linejoin="round" stroke-linecap="square" clip-path="url(#clip2)"/>
<polyline points="245.9,2823.9 251.9,2817.9 259.8,2808.0 267.8,2790.1 273.7,2774.2 280.7,2786.1 289.6,2766.2 297.6,2756.3 303.5,2752.3 309.5,2732.5 315.4,2738.4 321.4,2736.4 327.4,2740.4 335.3,2704.6 341.3,2694.7 351.2,2696.7 357.2,2710.6 365.1,2734.5 373.1,2750.3 381.0,2726.5 387.0,2730.5 390.9,2718.6 398.9,2714.6 400.9,2690.7 404.8,2718.6 410.8,2704.6 418.8,2694.7 424.7,2718.6 430.7,2750.3 436.6,2750.3 442.6,2724.5 446.6,2728.5 452.5,2768.2 458.5,2762.3 466.4,2752.3 474.4,2742.4 480.3,2758.3 486.3,2710.6 494.1,2718.6 499.2,2736.0 504.3,2736.0 509.4,2717.1 514.5,2733.1 519.5,2734.6 524.6,2744.7 529.7,2733.1 534.8,2728.7 539.9,2727.3 545.0,2749.1 550.1,2753.5 555.1,2734.6 560.2,2753.5 565.3,2753.5 570.4,2762.2 575.5,2752.0 580.6,2752.7 585.7,2765.1 590.7,2800.0 595.8,2814.5 600.9,2840.7 606.0,2791.3 611.1,2821.8 616.2,2817.4 621.3,2820.3 626.3,2827.6 631.4,2832.0 636.5,2846.5 641.6,2855.2 646.7,2779.6 651.8,2818.9 656.9,2847.9 661.9,2791.3 667.0,2784.0 672.1,2845.0 677.2,2855.2 682.3,2861.0 687.4,2869.7 692.5,2855.2 697.5,2846.5 702.6,2877.6 707.7,2829.3 712.8,2835.8 717.9,2848.9 723.0,2869.7 728.1,2860.6 733.1,2848.9 738.2,2861.9 743.3,2770.6 748.4,2869.7 753.5,2886.7 758.6,2886.7 763.7,2894.5 768.7,2881.5 773.8,2883.2 783.8,2878.2 792.6,2898.2 802.6,2900.8 810.1,2903.3 820.2,2908.3 827.7,2933.3 840.2,2895.7 847.7,2920.8 855.2,2920.8 862.8,2910.8 870.3,2860.7 880.3,2893.2 887.8,2865.7 897.8,2898.2 905.4,2900.8 915.4,2910.8 922.9,2925.8 935.4,2918.3 945.5,2930.8 955.5,2913.3 963.0,2915.8 970.5,2900.8 978.0,2840.6 985.6,2888.2 993.1,2920.8 1000.6,2933.3 1008.1,2940.9 1018.1,2885.7 1025.7,2910.8 1033.2,2900.8 1043.2,2885.7 1053.2,2903.3 1063.3,2920.8 1073.3,2938.3 1083.3,2943.4 1090.8,2920.8 1098.3,2883.2 1108.4,2898.2 1115.9,2925.8 1125.9,2935.8 1135.9,2930.8 1146.0,2940.9 1151.0,2875.7 1160.0,2885.7 1170.0,2898.2 1180.1,2918.3 1187.6,2858.1 1195.1,2860.7 1202.6,2873.2 1210.1,2865.7 1220.2,2895.7 1227.7,2903.3 1235.2,2895.7 1242.7,2915.8 1250.2,2918.3 1260.3,2908.3 1270.3,2910.8 1277.8,2910.8 1287.8,2918.3 1295.3,2838.1 1302.9,2855.6 1310.4,2860.7 1320.4,2855.6 1324.2,2848.1 1330.4,2925.8 1335.4,2940.9 1339.2,2870.7 1345.5,2938.3 1355.5,2950.9 1360.0,2962.7 1365.0,2977.7 1373.8,2960.2 1382.6,2990.3 1392.6,2982.8 1400.1,2900.1 1405.1,2875.0 1415.1,2970.2 1425.2,2965.2 1430.2,2992.8 1440.2,2970.2 1447.7,2977.7 1455.2,2965.2 1462.8,2980.3 1472.8,2985.3 1480.3,3020.4 1482.8,2985.3 1490.3,2980.3 1497.8,2917.6 1505.4,2850.7 1512.9,2942.7 1520.4,2972.7 1530.4,2972.7 1537.9,2980.3 1548.0,2972.7 1558.0,2987.8 1560.0,2986.8 1568.5,2986.8 1581.3,2974.0 1587.7,2991.0 1594.1,2980.4 1602.6,2984.6 1611.1,2988.9 1617.5,2980.4 1623.9,2995.3 1632.4,2991.0 1643.1,3003.8 1653.7,2988.9 1664.4,2991.0 1668.6,2997.4 1677.2,2988.9 1685.7,2982.5 1690.0,2986.8 1694.2,2974.0 1698.5,2988.9 1704.9,2999.6 1713.4,2986.8 1721.9,2995.3 1734.7,2997.4 1741.1,2991.0 1751.7,2995.3 1764.5,3003.8 1770.9,2999.6 1781.6,2988.9 1785.8,2999.6 1796.5,3008.1 1800.7,2999.6 1809.3,3010.2 1819.9,3008.1 1830.6,3005.9 1836.9,2999.6 1843.3,3005.9 1854.0,2999.6 1862.5,3010.2 1871.0,2991.0 1879.6,2997.4 1888.1,2995.3 1900.0,3006.8 1908.6,3012.4 1910.4,3032.8 1914.1,3083.0 1919.7,3042.1 1923.4,3005.0 1927.1,2993.8 1932.7,3006.8 1938.3,3003.1 1945.7,3003.1 1955.0,3006.8 1960.6,3005.0 1968.0,2993.8 1973.6,2992.0 1979.1,2997.5 1986.6,2993.8 1992.1,2993.8 1997.7,3001.3 2005.1,2992.0 2012.6,2999.4 2020.0,3008.7 2029.3,3010.5 2038.6,3008.7 2046.0,3003.1 2053.4,3001.3 2063.6,3006.8 2066.4,2930.7 2070.1,2908.4 2075.7,2902.8 2081.3,2880.6 2085.0,2930.7 2088.7,2969.7 2092.4,2977.1 2096.1,2985.5" fill="none" stroke="#008000" stroke-width="7.9" stroke-linejoin="round" stroke-linecap="square" clip-path="url(#clip2)"/>
<polyline points="247.9,2891.4 251.9,2889.4 255.8,2871.5 258.8,2782.1 263.8,2810.0 268.7,2808.0 273.7,2702.7 279.7,2730.5 285.6,2674.8 291.6,2708.6 295.6,2740.4 300.5,2682.8 305.5,2704.6 311.5,2690.7 317.4,2762.3 321.4,2806.0 327.4,2788.1 332.3,2738.4 337.3,2684.8 342.3,2766.2 347.2,2714.6 351.2,2716.6 355.2,2748.4 360.1,2794.1 367.1,2768.2 371.1,2837.8 377.0,2837.8 383.0,2817.9 388.0,2857.6 392.9,2857.6 398.9,2827.8 403.9,2798.0 407.8,2615.2 412.8,2674.8 417.8,2672.9 423.7,2641.1 428.7,2674.8 432.7,2716.6 438.6,2692.7 444.6,2714.6 448.6,2555.6 454.5,2672.9 460.5,2680.8 468.4,2692.7 474.4,2627.2 482.3,2664.9 486.3,2768.2 494.1,2747.6 499.2,2741.8 504.3,2728.7 509.4,2741.8 514.5,2763.6 519.5,2750.5 524.6,2738.9 529.7,2737.5 534.8,2741.8 539.9,2685.1 545.0,2706.9 550.1,2733.1 555.1,2768.0 560.2,2750.5 565.3,2752.0 570.4,2786.9 575.5,2769.4 580.6,2781.1 585.7,2765.1 590.7,2759.3 595.8,2843.6 600.9,2811.6 606.0,2849.4 611.1,2830.5 616.2,2869.7 621.3,2875.6 626.3,2840.7 631.4,2832.0 636.5,2826.1 641.6,2853.8 646.7,2811.6 651.8,2829.0 656.9,2879.9 661.9,2789.8 667.0,2797.1 672.1,2855.2 677.2,2887.2 682.3,2890.1 687.4,2901.7 692.5,2865.4 697.5,2890.1 702.6,2891.9 707.7,2891.9 712.8,2888.0 717.9,2871.0 723.0,2881.5 728.1,2877.6 733.1,2851.5 738.2,2898.4 743.3,2768.0 748.4,2891.9 753.5,2895.8 758.6,2893.2 763.7,2899.7 768.7,2899.7 773.8,2888.2 777.5,2893.2 783.8,2915.8 790.1,2885.7 797.6,2913.3 805.1,2898.2 810.1,2938.3 820.2,2915.8 827.7,2918.3 835.2,2888.2 840.2,2940.9 847.7,2925.8 857.7,2920.8 865.3,2878.2 872.8,2930.8 880.3,2965.9 887.8,2908.3 892.8,2955.9 902.9,2910.8 910.4,2918.3 920.4,2953.4 927.9,2923.3 935.4,2940.9 943.0,2923.3 948.0,2938.3 953.0,2838.1 960.5,2900.8 968.0,2910.8 973.0,2780.5 978.0,2863.2 985.6,2935.8 993.1,2918.3 1000.6,2910.8 1008.1,2935.8 1013.1,2895.7 1018.1,2938.3 1025.7,2905.8 1033.2,2935.8 1038.2,2888.2 1045.7,2915.8 1053.2,2928.3 1063.3,2933.3 1070.8,2915.8 1080.8,2910.8 1088.3,2930.8 1095.8,2813.0 1103.4,2895.7 1110.9,2863.2 1118.4,2900.8 1125.9,2870.7 1133.4,2840.6 1141.0,2893.2 1148.5,2780.5 1156.0,2825.6 1160.0,2840.6 1165.0,2875.7 1170.0,2888.2 1177.5,2880.7 1185.1,2848.1 1190.1,2890.7 1195.1,2865.7 1200.1,2895.7 1206.4,2838.1 1212.6,2865.7 1220.2,2863.2 1227.7,2893.2 1235.2,2870.7 1242.7,2898.2 1250.2,2918.3 1255.2,2895.7 1260.3,2903.3 1267.8,2883.2 1275.3,2893.2 1282.8,2890.7 1290.3,2863.2 1297.8,2820.6 1305.4,2898.2 1310.4,2865.7 1317.9,2890.7 1325.4,2860.7 1327.9,2950.9 1335.4,2883.2 1343.0,2938.3 1348.0,3013.5 1353.0,2865.7 1358.0,3001.0 1360.0,3005.3 1367.5,2985.3 1375.0,3035.4 1381.3,3047.9 1387.6,3012.8 1395.1,3030.4 1400.1,2905.1 1407.6,2942.7 1412.6,3005.3 1420.2,2955.2 1425.2,3022.9 1435.2,3015.3 1440.2,3032.9 1447.7,3030.4 1455.2,3025.4 1460.3,3045.4 1465.3,3037.9 1470.3,2985.3 1475.3,3070.5 1482.8,3030.4 1490.3,3020.4 1497.8,3005.3 1504.4,2830.6 1509.1,2905.1 1512.9,3030.4 1520.4,3042.9 1530.4,3050.4 1535.4,3055.4 1545.5,3037.9 1553.0,3055.4 1558.0,3060.5 1560.0,3054.9 1567.5,3069.9 1574.9,3042.2 1581.3,3065.6 1587.7,3059.2 1597.3,3078.4 1606.9,3042.2 1615.4,3059.2 1623.9,3065.6 1632.4,3059.2 1643.1,3076.3 1653.7,3061.3 1666.5,3069.9 1674.0,3091.2 1683.6,3072.0 1692.1,3065.6 1698.5,3048.6 1707.0,3074.1 1715.5,3076.3 1724.0,3089.0 1730.4,3065.6 1739.0,3065.6 1747.5,3059.2 1756.0,3048.6 1764.5,3069.9 1773.0,3063.5 1779.4,3072.0 1785.8,3074.1 1794.3,3080.5 1805.0,3067.7 1815.6,3080.5 1826.3,3082.6 1834.8,3080.5 1843.3,3086.9 1851.9,3089.0 1858.3,3089.0 1866.8,3067.7 1873.2,3080.5 1879.6,3099.7 1888.1,3082.6 1900.0,3083.0 1903.0,3094.1 1908.6,3099.7 1914.1,3097.8 1921.6,3066.3 1929.0,3060.7 1936.4,3049.5 1943.9,3058.8 1951.3,3066.3 1957.8,3077.4 1964.3,3066.3 1969.9,3060.7 1973.6,3027.3 1979.1,3032.8 1983.8,3018.0 1990.3,3034.7 1995.8,3031.0 1999.6,3010.5 2005.1,3012.4 2008.8,2977.1 2012.6,2995.7 2018.1,3031.0 2023.7,3040.3 2029.3,3060.7 2038.6,3066.3 2046.0,3060.7 2051.6,3051.4 2057.1,3049.5 2066.4,3044.0 2070.1,2927.0 2075.7,2919.6 2079.4,2928.8 2084.1,2982.7 2088.7,2995.7 2096.1,3010.5" fill="none" stroke="#ff0000" stroke-width="7.9" stroke-linejoin="round" stroke-linecap="square" clip-path="url(#clip2)"/>
<rect x="491.6" y="2674.2" width="279.7" height="239.5" fill="none" stroke="#000" stroke-width="6.8"/>
<line x1="969.8" y1="2463.0" x2="771.3" y2="2674.2" stroke="#000" stroke-width="4.9"/>
<line x1="969.8" y1="2704.6" x2="771.3" y2="2913.7" stroke="#000" stroke-width="4.9"/>
<rect x="969.8" y="2463" width="812.0" height="241.6" fill="#fff"/>
<polyline points="969.8,2570.8 977.2,2588.4 991.9,2585.5 1006.7,2538.6 1021.5,2534.2 1036.2,2565.0 1051.0,2576.7 1065.8,2589.9 1080.5,2579.6 1095.3,2550.3 1110.1,2534.2 1124.8,2553.2 1139.6,2553.2 1154.3,2532.7 1169.1,2566.4 1183.9,2587.0 1198.6,2589.9 1213.4,2600.2 1228.2,2604.6 1242.9,2616.3 1257.7,2607.5 1272.5,2597.2 1287.2,2597.2 1302.0,2548.8 1316.7,2560.6 1331.5,2578.2 1346.3,2591.4 1361.0,2603.1 1375.8,2585.5 1390.6,2591.4 1405.3,2598.7 1420.1,2538.6 1434.9,2557.6 1449.6,2579.6 1464.4,2603.1 1479.1,2591.4 1493.9,2589.9 1508.7,2603.1 1523.4,2610.4 1538.2,2597.2 1553.0,2581.1 1567.7,2579.6 1582.5,2593.2 1597.3,2553.7 1612.0,2549.7 1626.8,2568.2 1641.5,2590.5 1656.3,2573.4 1671.1,2552.4 1685.8,2560.3 1700.6,2560.3 1715.4,2566.8 1730.1,2580.0 1744.9,2591.8 1759.7,2595.8 1774.4,2606.3 1781.8,2612.9 1789.2,2619.5" fill="none" stroke="#bf00bf" stroke-width="6.6" stroke-linejoin="round" stroke-linecap="square" stroke-opacity="0.7" clip-path="url(#iclip2)"/>
<polyline points="969.8,2638.3 977.2,2644.1 991.9,2652.9 1006.7,2614.8 1021.5,2607.5 1036.2,2633.9 1051.0,2644.1 1065.8,2652.9 1080.5,2642.7 1095.3,2617.8 1110.1,2604.6 1124.8,2622.2 1139.6,2613.4 1154.3,2600.2 1169.1,2628.0 1183.9,2642.7 1198.6,2654.4 1213.4,2658.8 1228.2,2661.7 1242.9,2666.1 1257.7,2661.7 1272.5,2654.4 1287.2,2651.5 1302.0,2606.0 1316.7,2622.2 1331.5,2638.3 1346.3,2648.5 1361.0,2654.4 1375.8,2636.8 1390.6,2636.8 1405.3,2644.1 1420.1,2582.6 1434.9,2619.2 1449.6,2638.3 1464.4,2642.7 1479.1,2623.6 1493.9,2635.4 1508.7,2648.5 1523.4,2652.9 1538.2,2647.1 1553.0,2628.0 1567.7,2633.9 1582.5,2651.1 1597.3,2612.9 1612.0,2619.5 1626.8,2633.9 1641.5,2645.8 1656.3,2635.3 1671.1,2615.5 1685.8,2624.7 1700.6,2620.8 1715.4,2623.4 1730.1,2637.9 1744.9,2644.5 1759.7,2653.7 1774.4,2660.3 1781.8,2662.9 1789.2,2665.5" fill="none" stroke="#1e90ff" stroke-width="6.6" stroke-linejoin="round" stroke-linecap="square" stroke-opacity="0.7" clip-path="url(#iclip2)"/>
<polyline points="969.8,2503.4 977.2,2507.8 991.9,2525.4 1006.7,2525.4 1021.5,2506.3 1036.2,2522.4 1051.0,2523.9 1065.8,2534.2 1080.5,2522.4 1095.3,2518.0 1110.1,2516.6 1124.8,2538.6 1139.6,2543.0 1154.3,2523.9 1169.1,2543.0 1183.9,2543.0 1198.6,2551.8 1213.4,2541.5 1228.2,2542.2 1242.9,2554.7 1257.7,2589.9 1272.5,2604.6 1287.2,2631.0 1302.0,2581.1 1316.7,2611.9 1331.5,2607.5 1346.3,2610.4 1361.0,2617.8 1375.8,2622.2 1390.6,2636.8 1405.3,2645.6 1420.1,2569.4 1434.9,2609.0 1449.6,2638.3 1464.4,2581.1 1479.1,2573.8 1493.9,2635.4 1508.7,2645.6 1523.4,2651.5 1538.2,2660.3 1553.0,2645.6 1567.7,2636.8 1582.5,2668.2 1597.3,2619.5 1612.0,2626.1 1626.8,2639.2 1641.5,2660.3 1656.3,2651.1 1671.1,2639.2 1685.8,2652.4 1700.6,2560.3 1715.4,2660.3 1730.1,2677.4 1744.9,2677.4 1759.7,2685.3 1774.4,2672.1 1781.8,2678.7 1789.2,2685.3" fill="none" stroke="#008000" stroke-width="6.6" stroke-linejoin="round" stroke-linecap="square" stroke-opacity="0.7" clip-path="url(#iclip2)"/>
<polyline points="969.8,2547.4 977.2,2537.1 991.9,2531.2 1006.7,2518.0 1021.5,2531.2 1036.2,2553.2 1051.0,2540.0 1065.8,2528.3 1080.5,2526.8 1095.3,2531.2 1110.1,2474.1 1124.8,2496.1 1139.6,2522.4 1154.3,2557.6 1169.1,2540.0 1183.9,2541.5 1198.6,2576.7 1213.4,2559.1 1228.2,2570.8 1242.9,2554.7 1257.7,2548.8 1272.5,2633.9 1287.2,2601.6 1302.0,2639.8 1316.7,2620.7 1331.5,2660.3 1346.3,2666.1 1361.0,2631.0 1375.8,2622.2 1390.6,2616.3 1405.3,2644.1 1420.1,2601.6 1434.9,2619.2 1449.6,2670.5 1464.4,2579.6 1479.1,2587.0 1493.9,2645.6 1508.7,2677.9 1523.4,2680.8 1538.2,2692.5 1553.0,2655.9 1567.7,2680.8 1582.5,2682.6 1597.3,2682.6 1612.0,2678.7 1626.8,2661.6 1641.5,2672.1 1656.3,2668.2 1671.1,2641.8 1685.8,2689.2 1700.6,2557.6 1715.4,2682.6 1730.1,2686.6 1744.9,2683.9 1759.7,2690.5 1774.4,2690.5 1781.8,2683.9 1789.2,2677.4" fill="none" stroke="#ff0000" stroke-width="6.6" stroke-linejoin="round" stroke-linecap="square" stroke-opacity="0.7" clip-path="url(#iclip2)"/>
<rect x="969.8" y="2463" width="812.0" height="241.6" fill="none" stroke="#000" stroke-width="3.8"/>
<line x1="1006.7" y1="2704.6" x2="1006.7" y2="2718.0" stroke="#000" stroke-width="3.8"/>
<text x="1006.7" y="2760.1" text-anchor="middle" font-size="36.9" fill="#000" stroke="#000" >50</text>
<line x1="1154.3" y1="2704.6" x2="1154.3" y2="2718.0" stroke="#000" stroke-width="3.8"/>
<text x="1154.3" y="2760.1" text-anchor="middle" font-size="36.9" fill="#000" stroke="#000" >60</text>
<line x1="1302.0" y1="2704.6" x2="1302.0" y2="2718.0" stroke="#000" stroke-width="3.8"/>
<text x="1302" y="2760.1" text-anchor="middle" font-size="36.9" fill="#000" stroke="#000" >70</text>
<line x1="1449.6" y1="2704.6" x2="1449.6" y2="2718.0" stroke="#000" stroke-width="3.8"/>
<text x="1449.6" y="2760.1" text-anchor="middle" font-size="36.9" fill="#000" stroke="#000" >80</text>
<line x1="1597.3" y1="2704.6" x2="1597.3" y2="2718.0" stroke="#000" stroke-width="3.8"/>
<text x="1597.3" y="2760.1" text-anchor="middle" font-size="36.9" fill="#000" stroke="#000" >90</text>
<line x1="1744.9" y1="2704.6" x2="1744.9" y2="2718.0" stroke="#000" stroke-width="3.8"/>
<text x="1744.9" y="2760.1" text-anchor="middle" font-size="36.9" fill="#000" stroke="#000" >100</text>
<line x1="956.4" y1="2697.4" x2="969.8" y2="2697.4" stroke="#000" stroke-width="3.8"/>
<text x="944.3" y="2711" text-anchor="end" font-size="36.9" fill="#000" stroke="#000" >0.3</text>
<line x1="956.4" y1="2616.0" x2="969.8" y2="2616.0" stroke="#000" stroke-width="3.8"/>
<text x="944.3" y="2629.6" text-anchor="end" font-size="36.9" fill="#000" stroke="#000" >0.4</text>
<line x1="956.4" y1="2534.7" x2="969.8" y2="2534.7" stroke="#000" stroke-width="3.8"/>
<text x="944.3" y="2548.3" text-anchor="end" font-size="36.9" fill="#000" stroke="#000" >0.5</text>
<polyline points="250.0,2346.0 255.1,2350.7 260.2,2346.0 270.3,2348.0 285.6,2348.0 290.7,2366.2 295.8,2346.0 311.0,2352.1 316.1,2408.5 321.2,2348.0 326.3,2352.1 331.4,2402.5 336.5,2465.0 341.5,2352.1 346.6,2348.0 351.7,2354.1 356.8,2363.4 361.9,2358.1 367.0,2352.1 372.1,2412.6 377.1,2483.7 382.2,2352.1 387.3,2348.0 392.4,2362.2 397.5,2402.5 402.6,2440.0 407.7,2402.5 412.7,2378.3 417.8,2346.0 422.9,2352.1 428.0,2362.2 433.1,2382.3 438.2,2391.4 443.3,2348.0 448.3,2352.1 453.4,2372.2 458.5,2396.4 463.6,2352.1 468.7,2346.0 473.8,2372.2 478.9,2406.5 483.9,2352.1 489.0,2348.0 494.1,2362.2 499.2,2412.6 504.3,2460.4 509.4,2362.2 514.5,2346.0 519.5,2352.1 524.6,2382.3 529.7,2406.5 534.8,2412.6 539.9,2448.9 545.0,2364.2 550.1,2392.4 555.1,2444.8 560.2,2352.1 565.3,2346.0 575.5,2348.0 580.6,2352.1 585.7,2366.2 590.7,2380.3 595.8,2362.2 600.9,2382.3 606.0,2420.6 611.1,2362.2 616.2,2346.0 621.3,2352.1 626.3,2366.2 631.4,2391.4 636.5,2352.1 641.6,2463.0 646.7,2613.8 651.8,2382.3 656.9,2348.0 661.9,2362.2 667.0,2384.3 672.1,2352.1 677.2,2348.0 682.3,2358.1 687.4,2372.2 692.5,2394.4 697.5,2352.1 702.6,2382.3 707.7,2452.5 712.8,2362.2 717.9,2350.1 723.0,2392.4 728.1,2444.8 733.1,2362.2 738.2,2382.3 743.3,2416.6 748.4,2350.1 753.5,2352.1 758.6,2350.1 763.7,2346.0 773.8,2352.1 778.9,2382.3 784.0,2348.0 799.3,2352.1 804.3,2364.2 809.4,2348.0 814.5,2346.0 829.8,2362.2 834.9,2391.4 839.9,2348.0 845.0,2350.1 850.1,2364.2 855.2,2352.1 860.3,2402.5 865.4,2466.6 870.5,2352.1 875.5,2348.0 880.6,2366.2 885.7,2398.5 890.8,2350.1 901.0,2350.1 906.1,2356.1 911.1,2350.1 921.3,2352.1 926.4,2358.1 931.5,2348.0 941.7,2350.1 946.7,2372.2 951.8,2408.5 956.9,2348.0 962.0,2346.0 967.1,2402.5 972.2,2460.4 977.3,2352.1 982.3,2346.0 1002.7,2352.1 1007.8,2372.2 1012.9,2405.5 1017.9,2348.0 1028.1,2352.1 1033.2,2402.5 1038.3,2449.9 1043.4,2354.1 1048.5,2348.0 1063.7,2346.0 1084.1,2348.0 1089.1,2366.2 1094.2,2390.4 1099.3,2372.2 1104.4,2380.3 1109.5,2348.0 1114.6,2346.0 1145.1,2348.0 1150.2,2402.5 1155.3,2477.5 1160.3,2352.1 1170.5,2348.0 1175.6,2352.1 1180.7,2402.5 1185.8,2462.0 1190.9,2362.2 1195.9,2352.1 1201.0,2382.3 1206.1,2426.7 1211.2,2362.2 1216.3,2348.0 1231.5,2346.0 1246.8,2350.1 1251.9,2358.1 1257.0,2371.0 1262.1,2348.0 1277.3,2346.0 1282.4,2352.1 1287.5,2402.5 1292.6,2551.3 1297.7,2382.3 1302.7,2352.1 1307.8,2372.2 1312.9,2382.3 1318.0,2352.1 1323.1,2392.4 1328.2,2431.9 1333.3,2352.1 1338.3,2362.2 1343.4,2352.1 1348.5,2358.1 1353.6,2376.3 1358.7,2348.0 1379.0,2348.0 1389.2,2350.1 1394.3,2354.1 1399.4,2350.1 1404.5,2372.2 1409.5,2416.6 1414.6,2358.1 1419.7,2348.0 1424.8,2350.1 1429.9,2382.3 1435.0,2422.7 1440.1,2362.2 1445.1,2352.1 1450.2,2392.4 1455.3,2352.1 1460.4,2348.0 1465.5,2354.1 1470.6,2360.1 1475.7,2348.0 1480.7,2354.1 1485.8,2348.0 1496.0,2348.0 1501.1,2382.3 1506.2,2446.2 1511.3,2362.2 1516.3,2348.0 1546.9,2346.0 1562.1,2348.0 1567.2,2354.1 1572.3,2358.1 1577.4,2348.0 1592.6,2352.1 1597.7,2360.1 1602.8,2348.0 1623.1,2348.0 1633.3,2346.0 1653.7,2348.0 1668.9,2352.1 1674.0,2366.2 1679.1,2374.3 1684.2,2352.1 1689.3,2402.5 1694.3,2483.7 1699.4,2352.1 1704.5,2346.0 1719.8,2350.1 1724.9,2363.2 1729.9,2350.1 1735.0,2358.1 1740.1,2373.1 1745.2,2348.0 1760.5,2346.0 1765.5,2352.1 1770.6,2372.2 1775.7,2387.2 1780.8,2352.1 1785.9,2348.0 1791.0,2358.1 1796.1,2376.3 1801.1,2350.1 1806.2,2346.0 1826.6,2346.0 1836.7,2348.0 1846.9,2348.0 1852.0,2352.1 1857.1,2348.0 1862.2,2354.1 1867.3,2372.2 1872.3,2392.8 1877.4,2354.1 1882.5,2362.2 1887.6,2354.1 1892.7,2358.1 1897.8,2378.3 1902.9,2358.1 1907.9,2362.2 1913.0,2378.3 1918.1,2362.2 1923.2,2406.5 1928.3,2358.1 1933.4,2362.2 1938.5,2348.0 1948.6,2346.0 1963.9,2348.0 1969.0,2354.1 1974.1,2350.1 1979.1,2358.1 1984.2,2368.2 1989.3,2354.1 1994.4,2348.0 2004.6,2350.1 2009.7,2354.1 2014.7,2350.1 2030.0,2348.0 2040.2,2346.0 2050.3,2350.1 2055.4,2346.0 2065.6,2346.0 2070.7,2358.1 2075.8,2388.4 2080.9,2348.0 2085.9,2350.1 2096.1,2348.0" fill="none" stroke="#0000ff" stroke-width="7.9" stroke-linejoin="round" stroke-linecap="square" clip-path="url(#clip2)"/>
<rect x="177.4" y="3011.6" width="672.7" height="116.5" rx="7" ry="7" fill="#fff" fill-opacity="0.8" stroke="#cccccc" stroke-opacity="0.8" stroke-width="4"/>
<line x1="187.0" y1="3040.6" x2="268.0" y2="3040.6" stroke="#bf00bf" stroke-width="7.8"/>
<text x="292.7" y="3054.4" text-anchor="start" font-size="36.9" fill="#000" stroke="#000" >SCE-UA</text>
<line x1="187.0" y1="3095.1" x2="268.0" y2="3095.1" stroke="#1e90ff" stroke-width="7.8"/>
<text x="292.7" y="3108.9" text-anchor="start" font-size="36.9" fill="#000" stroke="#000" >LSTM<tspan font-style="italic" font-size="25.8" dy="5.6">Z</tspan></text>
<line x1="498.0" y1="3040.6" x2="579.0" y2="3040.6" stroke="#008000" stroke-width="7.8"/>
<text x="603.7" y="3054.4" text-anchor="start" font-size="36.9" fill="#000" stroke="#000" >ParaFormer<tspan font-style="italic" font-size="25.8" dy="5.6">Z</tspan></text>
<line x1="498.0" y1="3095.1" x2="579.0" y2="3095.1" stroke="#ff0000" stroke-width="7.8"/>
<text x="603.7" y="3108.9" text-anchor="start" font-size="36.9" fill="#000" stroke="#000" >SMAP</text>
<rect x="158" y="2342" width="2030" height="806.5" fill="none" stroke="#000" stroke-width="3.8"/>
<line x1="250.0" y1="3148.5" x2="250.0" y2="3161.9" stroke="#000" stroke-width="3.8"/>
<text x="250" y="3203.5" text-anchor="middle" font-size="36.9" fill="#000" stroke="#000" >0</text>
<line x1="504.3" y1="3148.5" x2="504.3" y2="3161.9" stroke="#000" stroke-width="3.8"/>
<text x="504.3" y="3203.5" text-anchor="middle" font-size="36.9" fill="#000" stroke="#000" >50</text>
<line x1="758.6" y1="3148.5" x2="758.6" y2="3161.9" stroke="#000" stroke-width="3.8"/>
<text x="758.6" y="3203.5" text-anchor="middle" font-size="36.9" fill="#000" stroke="#000" >100</text>
<line x1="1012.9" y1="3148.5" x2="1012.9" y2="3161.9" stroke="#000" stroke-width="3.8"/>
<text x="1012.9" y="3203.5" text-anchor="middle" font-size="36.9" fill="#000" stroke="#000" >150</text>
<line x1="1267.1" y1="3148.5" x2="1267.1" y2="3161.9" stroke="#000" stroke-width="3.8"/>
<text x="1267.1" y="3203.5" text-anchor="middle" font-size="36.9" fill="#000" stroke="#000" >200</text>
<line x1="1521.4" y1="3148.5" x2="1521.4" y2="3161.9" stroke="#000" stroke-width="3.8"/>
<text x="1521.4" y="3203.5" text-anchor="middle" font-size="36.9" fill="#000" stroke="#000" >250</text>
<line x1="1775.7" y1="3148.5" x2="1775.7" y2="3161.9" stroke="#000" stroke-width="3.8"/>
<text x="1775.7" y="3203.5" text-anchor="middle" font-size="36.9" fill="#000" stroke="#000" >300</text>
<line x1="2030.0" y1="3148.5" x2="2030.0" y2="3161.9" stroke="#000" stroke-width="3.8"/>
<text x="2030" y="3203.5" text-anchor="middle" font-size="36.9" fill="#000" stroke="#000" >350</text>
<line x1="144.6" y1="3148.5" x2="158" y2="3148.5" stroke="#000" stroke-width="3.8"/>
<text x="133.5" y="3162.1" text-anchor="end" font-size="36.9" fill="#000" stroke="#000" >0.0</text>
<line x1="144.6" y1="2987.2" x2="158" y2="2987.2" stroke="#000" stroke-width="3.8"/>
<text x="133.5" y="3000.8" text-anchor="end" font-size="36.9" fill="#000" stroke="#000" >0.2</text>
<line x1="144.6" y1="2825.9" x2="158" y2="2825.9" stroke="#000" stroke-width="3.8"/>
<text x="133.5" y="2839.5" text-anchor="end" font-size="36.9" fill="#000" stroke="#000" >0.4</text>
<line x1="144.6" y1="2664.6" x2="158" y2="2664.6" stroke="#000" stroke-width="3.8"/>
<text x="133.5" y="2678.2" text-anchor="end" font-size="36.9" fill="#000" stroke="#000" >0.6</text>
<line x1="144.6" y1="2503.3" x2="158" y2="2503.3" stroke="#000" stroke-width="3.8"/>
<text x="133.5" y="2516.9" text-anchor="end" font-size="36.9" fill="#000" stroke="#000" >0.8</text>
<line x1="144.6" y1="2342.0" x2="158" y2="2342.0" stroke="#000" stroke-width="3.8"/>
<text x="133.5" y="2355.6" text-anchor="end" font-size="36.9" fill="#000" stroke="#000" >1.0</text>
<line x1="2188" y1="2342.0" x2="2201.4" y2="2342.0" stroke="#000" stroke-width="3.8"/>
<text x="2213.5" y="2355.6" text-anchor="start" font-size="36.9" fill="#000" stroke="#000" >0.0</text>
<line x1="2188" y1="2442.8" x2="2201.4" y2="2442.8" stroke="#000" stroke-width="3.8"/>
<text x="2213.5" y="2456.4" text-anchor="start" font-size="36.9" fill="#000" stroke="#000" >0.5</text>
<line x1="2188" y1="2543.6" x2="2201.4" y2="2543.6" stroke="#000" stroke-width="3.8"/>
<text x="2213.5" y="2557.2" text-anchor="start" font-size="36.9" fill="#000" stroke="#000" >1.0</text>
<line x1="2188" y1="2644.4" x2="2201.4" y2="2644.4" stroke="#000" stroke-width="3.8"/>
<text x="2213.5" y="2658" text-anchor="start" font-size="36.9" fill="#000" stroke="#000" >1.5</text>
<line x1="2188" y1="2745.2" x2="2201.4" y2="2745.2" stroke="#000" stroke-width="3.8"/>
<text x="2213.5" y="2758.8" text-anchor="start" font-size="36.9" fill="#000" stroke="#000" >2.0</text>
<line x1="2188" y1="2846.1" x2="2201.4" y2="2846.1" stroke="#000" stroke-width="3.8"/>
<text x="2213.5" y="2859.7" text-anchor="start" font-size="36.9" fill="#000" stroke="#000" >2.5</text>
<line x1="2188" y1="2946.9" x2="2201.4" y2="2946.9" stroke="#000" stroke-width="3.8"/>
<text x="2213.5" y="2960.5" text-anchor="start" font-size="36.9" fill="#000" stroke="#000" >3.0</text>
<line x1="2188" y1="3047.7" x2="2201.4" y2="3047.7" stroke="#000" stroke-width="3.8"/>
<text x="2213.5" y="3061.3" text-anchor="start" font-size="36.9" fill="#000" stroke="#000" >3.5</text>
<line x1="2188" y1="3148.5" x2="2201.4" y2="3148.5" stroke="#000" stroke-width="3.8"/>
<text x="2213.5" y="3162.1" text-anchor="start" font-size="36.9" fill="#000" stroke="#000" >4.0</text>
<text x="1173.8" y="3251.7" text-anchor="middle" font-size="36.9" fill="#000" stroke="#000" >Time (day)</text>
<text x="0" y="0" text-anchor="middle" font-size="36.9" stroke="#000" transform="translate(53.3,2746.2) rotate(-90)">Soil Moisture (100%)</text>
<text x="0" y="0" text-anchor="middle" font-size="36.9" fill="#0000ff" stroke="#0000ff" textLength="410.5" lengthAdjust="spacingAndGlyphs" transform="translate(2314,2739.2) rotate(-90)">Precipitation (mm/day)</text>
<text class="lab" x="1121.5" y="3361.0" text-anchor="middle" font-family="'Liberation Serif', serif" font-size="65">(<tspan font-weight="bold" font-size="68" dx="1.2" dy="3.2">e</tspan><tspan dx="1" dy="-3.2">)</tspan></text>
</svg>
</body></html>
